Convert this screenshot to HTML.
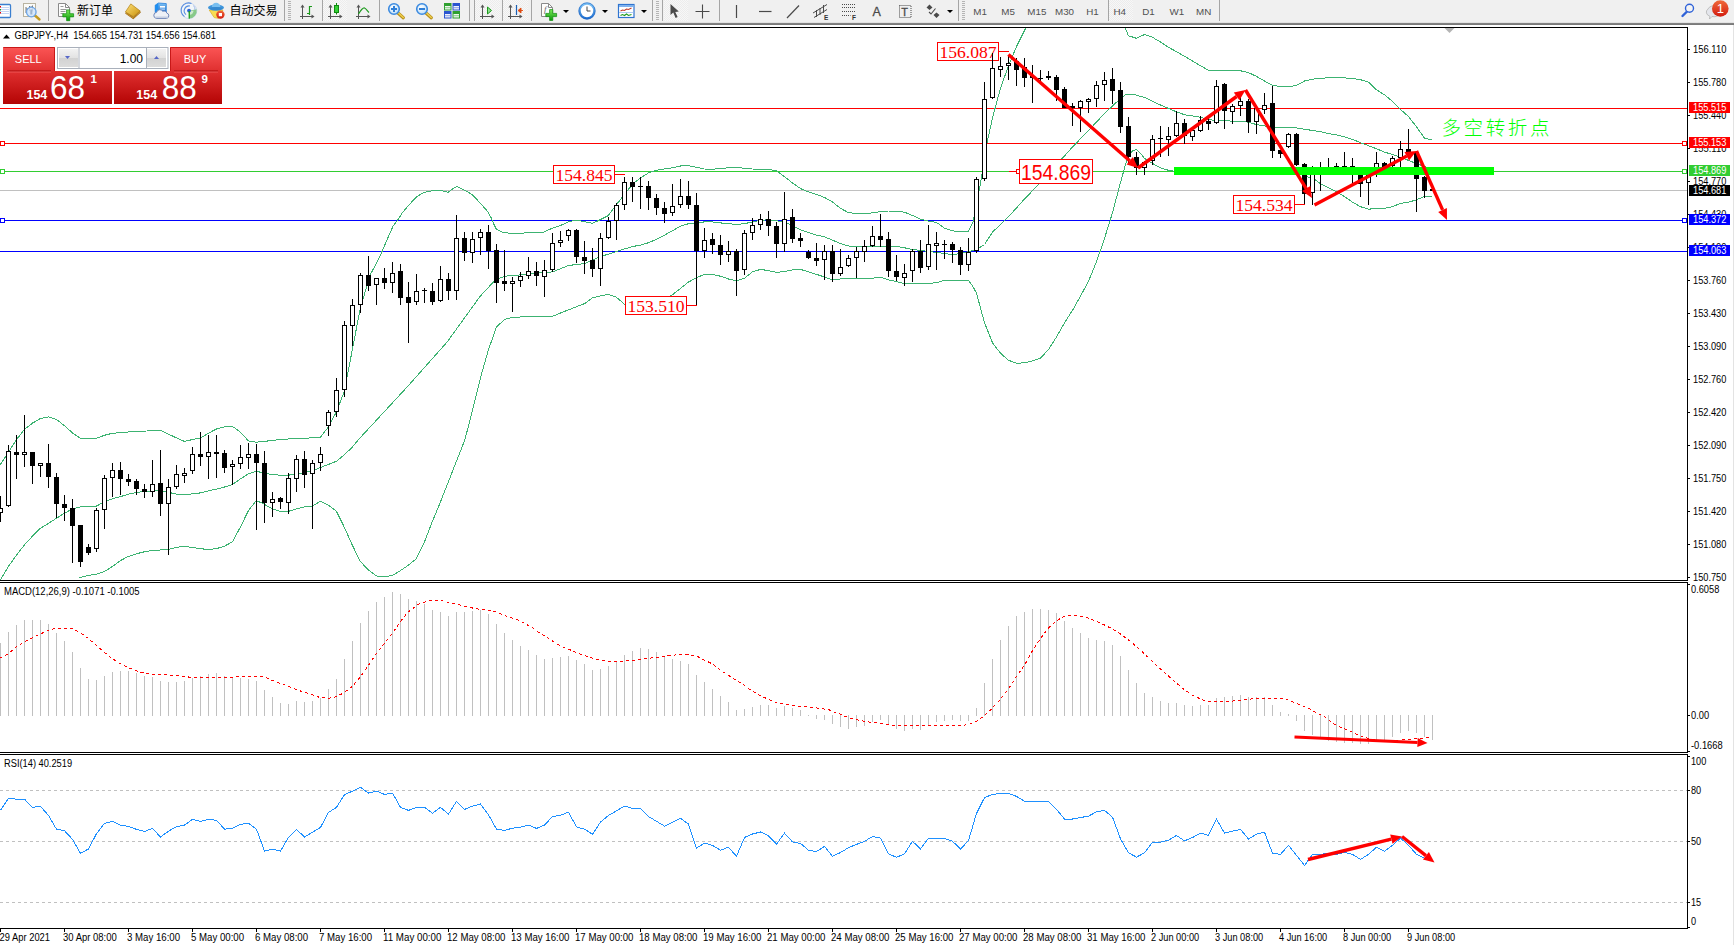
<!DOCTYPE html>
<html><head><meta charset="utf-8"><title>GBPJPY H4</title>
<style>
html,body{margin:0;padding:0;}
body{width:1734px;height:945px;overflow:hidden;background:#fff;position:relative;font-family:"Liberation Sans", "Noto Sans CJK SC", sans-serif;}
#tb{position:absolute;left:0;top:0;width:1734px;height:23px;background:#f0f0f0;}
#tbl{position:absolute;left:0;top:22px;width:1734px;height:3px;background:linear-gradient(#ececec 0%,#dcdcdc 30%,#8a8a8a 42%,#6a6a6a 75%,#9a9a9a 100%);}
</style></head><body>
<div id="tb"></div><div id="tbl"></div>
<svg width="1734" height="945" viewBox="0 0 1734 945" style="position:absolute;left:0;top:0"><defs><clipPath id="cm"><rect x="0" y="28" width="1687" height="552"/></clipPath><clipPath id="cd"><rect x="0" y="583" width="1687" height="169"/></clipPath><clipPath id="cr"><rect x="0" y="755" width="1687" height="173"/></clipPath></defs>
<g shape-rendering="crispEdges">
<g clip-path="url(#cm)">
<rect x="0" y="108" width="1687" height="1" fill="#ff0000"/>
<rect x="0" y="143" width="1687" height="1" fill="#ff0000"/>
<rect x="0" y="171" width="1687" height="1" fill="#32cd32"/>
<rect x="0" y="190" width="1687" height="1" fill="#c0c0c0"/>
<rect x="0" y="220" width="1687" height="1" fill="#0000ff"/>
<rect x="0" y="251" width="1687" height="1" fill="#0000ff"/>
<polyline points="0,465 7.6,453.6 16.5,439.6 24.4,429.5 32.5,423.1 40.3,418.6 48.5,416.8 56.3,419.3 64.5,425.7 72.3,432.8 80.4,438.4 96.4,438.4 104.3,435.3 112.4,433.3 128.4,432 152.2,430.7 160.4,430.2 168.2,434 176.4,437.9 184.5,441.4 192.3,439.6 200.5,437.9 208.3,433.3 216.4,429 224.3,426.9 232.4,426.4 240.3,432 248.4,440.9 256.3,442.2 264.4,441.4 272.3,440.4 280.4,439.6 296.4,438.4 312.4,437.9 320.5,437.1 328.4,426.9 336.5,411.7 344.3,391.4 360.6,306.7 370.8,273.7 378.1,260 382.5,250.5 389.5,234 393.3,225.7 397.8,220 402.2,213 408.6,205.4 416.2,197.1 422.5,193.1 428.9,191.2 436.5,190.5 441.6,190.5 447.9,192.4 451.7,189.5 456.8,186.3 461.9,188.9 467,191.4 472.1,194.6 477.1,199.7 482.2,205.4 487.3,211.1 491.1,217.5 493.7,223.8 496.2,228.9 502.5,232.1 510.2,233.3 522.9,233.3 525.4,232.3 543.2,232.3 550.8,228.9 560.2,225.7 568.6,221.6 576.5,220.3 584.6,221.6 592.5,223.4 600,219.8 608.4,215.5 616.5,204.6 624.4,194.4 632.5,184.3 640.4,177.9 648.5,172.9 656.4,170.3 664.5,169 672.4,167.8 680.5,166 688.4,165.7 696.5,167.3 704.4,169 712.5,169.3 720.4,168.5 728.5,167.8 736.4,167.3 744.5,168.3 752.4,169 760.5,169.3 768.4,169.3 776.5,170.8 784.6,176.7 792.5,183 800.6,188.6 808.5,191.9 816.6,194.4 824.5,197.5 832.6,202.1 840.5,208.4 848.6,212.7 856.5,213.5 864.6,214 872.5,212.7 880.6,211.7 888.5,211 896.6,211 904.5,212.2 912.6,215.5 920.5,219.1 928.6,221.1 936.5,222.4 944.6,228.2 952.5,230.8 960.6,231.8 968.5,231.3 973.3,221.1 976.6,203.3 979.7,188.1 986.7,144.4 992.5,117.8 1000.4,88.6 1008.5,65.7 1016.4,46.7 1026,27.6" fill="none" stroke="#3cb371" stroke-width="1" />
<polyline points="1125.1,27.6 1128.4,35.7 1136.5,38.3 1144.6,34.5 1152.5,37.3 1160.6,42.1 1168.5,47.4 1176.6,51.7 1184.5,56.3 1192.6,61.1 1200.5,65.7 1208.6,70.3 1216.5,70.3 1224.6,70.3 1232.5,70.3 1240.6,70.8 1248.5,72.6 1256.6,76.4 1264.5,81 1272.6,85.5 1280.5,86.5 1288.6,86.8 1296.5,85.5 1304.6,81 1312.5,79.2 1320.6,78.4 1328.5,77.7 1336.6,77.9 1344.5,77.9 1352.6,78.4 1360.5,79.7 1368.6,82.2 1376.5,89.8 1384.6,94.9 1392.5,101.3 1400.4,109.4 1408.5,116.5 1416.4,126.7 1424.5,138.1 1432.4,140.1" fill="none" stroke="#3cb371" stroke-width="1" />
<polyline points="0,580.5 8.4,566.5 16.5,555.1 24.4,544.9 32.5,536.1 40.3,528.4 48.5,523.4 56.3,518.3 64.5,513.2 72.3,508.9 80.4,506.9 96.4,506.1 104.3,501.8 112.4,498.8 120.3,496.7 128.4,494.2 136.3,492.4 144.4,491.6 152.2,490.9 160.4,490.9 168.2,492.2 176.4,494.2 184.5,494.7 200.5,492.9 208.3,490.9 216.4,489.1 224.3,487.1 232.4,484.5 240.3,479 248.4,473.9 256.3,471.3 264.4,473.1 272.3,474.6 280.4,475.2 288.3,475.2 296.4,473.9 304.2,472.6 312.4,470.8 320.5,467.5 328.4,464.5 336.5,461.2 344.3,454.9 352.2,447.2 358.1,440 406.3,387.9 447,342.2 480,296.5 495.2,280 504.6,276.2 520.6,274.9 536.6,273.1 552.6,271.9 568.6,265.5 584.6,263.5 600,256.7 608.4,254.1 616.5,251.6 624.4,249 632.5,246.5 640.4,245.2 648.5,242.7 656.4,239.4 664.5,235.1 672.4,230.8 680.5,226.2 688.4,223.7 696.5,222.9 704.4,221.9 712.5,221.9 720.4,222.9 728.5,223.7 736.4,224.4 744.5,223.7 752.4,221.9 760.5,220.3 768.4,219.8 776.5,220.6 784.6,222.4 792.5,225.4 800.6,230 808.5,232.5 816.6,235.1 824.5,236.9 832.6,240.2 840.5,243.5 848.6,246 856.5,246.5 864.6,246 872.5,246 880.6,246 888.5,246.5 896.6,246.5 904.5,247.8 912.6,249.6 920.5,250.3 928.6,251.6 936.5,252.3 944.6,253.6 952.5,254.6 960.6,253.6 968.5,251.6 976.6,249.6 984.5,244.5 992.5,232.1 1008.5,216.8 1024.5,199 1040.5,182.5 1056.5,164.8 1072.5,147 1088.5,130.5 1104.5,113.5 1117.5,101.3 1125.1,94.9 1132.7,94.2 1144.6,97.5 1160.6,105.1 1176.6,111.9 1184.5,114.7 1192.6,116 1200.5,117.3 1208.6,119.8 1216.5,120.3 1224.6,120.8 1232.5,121.1 1240.6,121.1 1248.5,122.3 1256.6,124.6 1264.5,125.9 1272.6,127.2 1280.5,127.9 1288.6,127.2 1296.5,127.9 1304.6,129.2 1312.5,130.5 1320.6,131.7 1328.5,133.5 1336.6,135 1344.5,136.8 1352.6,139.4 1360.5,142.7 1368.6,145.7 1376.5,148.8 1384.6,152.1 1392.5,154.6 1400.4,157.1 1408.5,160.4 1416.4,163.5 1424.5,166.5 1432.4,168.6" fill="none" stroke="#3cb371" stroke-width="1" />
<polyline points="78.7,577.9 88.3,575.4 96.4,574.1 104.3,571.6 112.4,566.5 120.3,560.7 128.4,556.4 136.3,553.8 144.4,551.8 152.2,550.5 160.4,550 168.2,549.5 176.4,547.5 184.5,546.2 192.3,547.5 200.5,548.7 208.3,549.5 216.4,548.7 224.3,546.2 232.4,541.9 240.3,527.2 248.4,510.7 256.3,500.5 264.4,504.3 272.3,508.9 280.4,511.4 288.3,511.4 296.4,508.9 304.2,506.9 312.4,506.1 320.5,501.3 328.4,505.1 336.5,511.4 344.3,527.2 352.2,544.9 360.3,561.4 368.2,569.8 376.3,575.9 384.2,576.7 392.3,575.4 400.2,570.8 408.3,565.2 416.1,558.9 424.3,542.4 432.1,522.1 440,503.1 464.8,440 472.4,410.8 480.5,377.8 488.4,349.8 496.5,327 504.6,319.4 512.5,317.3 536.6,316.3 552.6,316.3 560.5,313 576.5,306.7 584.6,303.6 592.5,297.8 600,296 608.4,294.3 616.5,297.3 624.4,304.2 633,310 650.8,308.7 672.4,294.8 680.5,288.4 688.4,282.1 696.5,277.7 704.4,274.4 712.5,274.4 720.4,276.2 728.5,279 736.4,280.8 744.5,278.3 752.4,271.9 760.5,269.4 768.4,270.6 776.5,272.4 784.6,271.4 792.5,269.9 800.6,269.4 808.5,271.9 816.6,274.4 824.5,277 832.6,280 840.5,279 848.6,278.8 856.5,278.5 864.6,278.5 872.5,278.3 880.6,277 888.5,280 896.6,281.6 904.5,283.8 912.6,283.8 920.5,283.8 928.6,283.3 936.5,282.8 944.6,280.3 952.5,280.3 968.5,280.3 973.3,287.1 976.6,293.5 981,310 984.5,322.7 988.6,332.9 992.6,343 1000.5,353.2 1008.6,360.3 1016.5,363.3 1024.6,362.8 1032.5,360.8 1040.4,358.3 1048.6,349.4 1056.7,336.7 1064.6,322.7 1072.7,310 1080.6,296 1088.7,280.8 1097.1,260 1104.5,238.4 1112.4,213 1120.5,182.5 1125.1,166 1128.4,155.9 1132.7,150.8 1136.5,149.5 1140.3,153.3 1144.6,158.4 1152.5,163.5 1160.6,167.8 1168.5,170.3 1174.1,171.1 1214,171.6 1264.8,172.4 1300.3,174.2 1315.6,180 1320.6,183.8 1328.5,187.6 1336.6,191.9 1344.5,196.5 1352.6,202.3 1360.5,206.7 1368.6,209.2 1376.5,208.4 1384.6,208.4 1392.5,206.7 1400.4,203.4 1408.5,202.3 1416.4,199.8 1424.5,196.5 1432.4,197" fill="none" stroke="#3cb371" stroke-width="1" />
<rect x="937.5" y="42.5" width="61.0" height="18.0" fill="#fff" stroke="#ff0000" stroke-width="1" shape-rendering="crispEdges"/>
<text x="968.0" y="57.8" font-family='"Liberation Serif", serif' font-size="17.5" fill="#ff0000" text-anchor="middle" textLength="57.2" lengthAdjust="spacingAndGlyphs">156.087</text>
<rect x="999" y="51" width="10" height="1" fill="#ff0000" shape-rendering="crispEdges"/>
<rect x="553.5" y="165.5" width="61.0" height="18.0" fill="#fff" stroke="#ff0000" stroke-width="1" shape-rendering="crispEdges"/>
<text x="584.0" y="180.9" font-family='"Liberation Serif", serif' font-size="17.5" fill="#ff0000" text-anchor="middle" textLength="57.2" lengthAdjust="spacingAndGlyphs">154.845</text>
<rect x="615" y="174" width="10" height="1" fill="#ff0000" shape-rendering="crispEdges"/>
<rect x="625.5" y="296.5" width="61.0" height="18.0" fill="#fff" stroke="#ff0000" stroke-width="1" shape-rendering="crispEdges"/>
<text x="656.0" y="311.8" font-family='"Liberation Serif", serif' font-size="17.5" fill="#ff0000" text-anchor="middle" textLength="57.2" lengthAdjust="spacingAndGlyphs">153.510</text>
<rect x="687" y="305" width="10" height="1" fill="#ff0000" shape-rendering="crispEdges"/>
<rect x="1233.5" y="195.5" width="61.0" height="18.0" fill="#fff" stroke="#ff0000" stroke-width="1" shape-rendering="crispEdges"/>
<text x="1264.0" y="210.9" font-family='"Liberation Serif", serif' font-size="17.5" fill="#ff0000" text-anchor="middle" textLength="57.2" lengthAdjust="spacingAndGlyphs">154.534</text>
<rect x="1295" y="204" width="10" height="1" fill="#ff0000" shape-rendering="crispEdges"/>
<rect x="1019.5" y="159.5" width="73.0" height="24.0" fill="#fff" stroke="#ff0000" stroke-width="1" shape-rendering="crispEdges"/>
<text x="1056.0" y="179.8" font-family='"Liberation Sans", sans-serif' font-size="22" fill="#ff0000" text-anchor="middle" textLength="70" lengthAdjust="spacingAndGlyphs">154.869</text>
<rect x="1009" y="171" width="7" height="1" fill="#ff0000" shape-rendering="crispEdges"/>
<rect x="1016.5" y="169.5" width="3" height="4" fill="#fff" stroke="#ff0000" shape-rendering="crispEdges"/>
<rect x="0" y="496" width="1" height="26" fill="#000"/>
<rect x="-2" y="508" width="5" height="5" fill="#000"/>
<rect x="-1" y="509" width="3" height="3" fill="#fff"/>
<rect x="8" y="445" width="1" height="62" fill="#000"/>
<rect x="6" y="451" width="5" height="55" fill="#000"/>
<rect x="7" y="452" width="3" height="53" fill="#fff"/>
<rect x="16" y="435" width="1" height="44" fill="#000"/>
<rect x="14" y="452" width="5" height="3" fill="#000"/>
<rect x="24" y="415" width="1" height="52" fill="#000"/>
<rect x="22" y="452" width="5" height="3" fill="#000"/>
<rect x="23" y="453" width="3" height="1" fill="#fff"/>
<rect x="32" y="452" width="1" height="32" fill="#000"/>
<rect x="30" y="452" width="5" height="14" fill="#000"/>
<rect x="40" y="463" width="1" height="14" fill="#000"/>
<rect x="38" y="463" width="5" height="3" fill="#000"/>
<rect x="39" y="464" width="3" height="1" fill="#fff"/>
<rect x="48" y="444" width="1" height="44" fill="#000"/>
<rect x="46" y="463" width="5" height="14" fill="#000"/>
<rect x="56" y="473" width="1" height="45" fill="#000"/>
<rect x="54" y="477" width="5" height="27" fill="#000"/>
<rect x="64" y="495" width="1" height="26" fill="#000"/>
<rect x="62" y="504" width="5" height="4" fill="#000"/>
<rect x="72" y="499" width="1" height="64" fill="#000"/>
<rect x="70" y="508" width="5" height="18" fill="#000"/>
<rect x="80" y="525" width="1" height="42" fill="#000"/>
<rect x="78" y="525" width="5" height="37" fill="#000"/>
<rect x="88" y="544" width="1" height="11" fill="#000"/>
<rect x="86" y="547" width="5" height="6" fill="#000"/>
<rect x="96" y="508" width="1" height="44" fill="#000"/>
<rect x="94" y="510" width="5" height="39" fill="#000"/>
<rect x="95" y="511" width="3" height="37" fill="#fff"/>
<rect x="104" y="475" width="1" height="54" fill="#000"/>
<rect x="102" y="478" width="5" height="32" fill="#000"/>
<rect x="103" y="479" width="3" height="30" fill="#fff"/>
<rect x="112" y="463" width="1" height="34" fill="#000"/>
<rect x="110" y="470" width="5" height="8" fill="#000"/>
<rect x="111" y="471" width="3" height="6" fill="#fff"/>
<rect x="120" y="462" width="1" height="33" fill="#000"/>
<rect x="118" y="470" width="5" height="9" fill="#000"/>
<rect x="128" y="474" width="1" height="12" fill="#000"/>
<rect x="126" y="479" width="5" height="3" fill="#000"/>
<rect x="136" y="479" width="1" height="16" fill="#000"/>
<rect x="134" y="481" width="5" height="8" fill="#000"/>
<rect x="144" y="484" width="1" height="14" fill="#000"/>
<rect x="142" y="489" width="5" height="3" fill="#000"/>
<rect x="152" y="460" width="1" height="37" fill="#000"/>
<rect x="150" y="484" width="5" height="8" fill="#000"/>
<rect x="151" y="485" width="3" height="6" fill="#fff"/>
<rect x="160" y="450" width="1" height="66" fill="#000"/>
<rect x="158" y="483" width="5" height="21" fill="#000"/>
<rect x="168" y="479" width="1" height="76" fill="#000"/>
<rect x="166" y="487" width="5" height="17" fill="#000"/>
<rect x="167" y="488" width="3" height="15" fill="#fff"/>
<rect x="176" y="465" width="1" height="24" fill="#000"/>
<rect x="174" y="474" width="5" height="13" fill="#000"/>
<rect x="175" y="475" width="3" height="11" fill="#fff"/>
<rect x="184" y="468" width="1" height="15" fill="#000"/>
<rect x="182" y="473" width="5" height="3" fill="#000"/>
<rect x="183" y="474" width="3" height="1" fill="#fff"/>
<rect x="192" y="447" width="1" height="27" fill="#000"/>
<rect x="190" y="454" width="5" height="17" fill="#000"/>
<rect x="191" y="455" width="3" height="15" fill="#fff"/>
<rect x="200" y="432" width="1" height="34" fill="#000"/>
<rect x="198" y="454" width="5" height="3" fill="#000"/>
<rect x="208" y="435" width="1" height="44" fill="#000"/>
<rect x="206" y="452" width="5" height="5" fill="#000"/>
<rect x="207" y="453" width="3" height="3" fill="#fff"/>
<rect x="216" y="435" width="1" height="43" fill="#000"/>
<rect x="214" y="452" width="5" height="2" fill="#000"/>
<rect x="224" y="450" width="1" height="23" fill="#000"/>
<rect x="222" y="453" width="5" height="15" fill="#000"/>
<rect x="232" y="460" width="1" height="25" fill="#000"/>
<rect x="230" y="464" width="5" height="3" fill="#000"/>
<rect x="231" y="465" width="3" height="1" fill="#fff"/>
<rect x="240" y="445" width="1" height="24" fill="#000"/>
<rect x="238" y="457" width="5" height="7" fill="#000"/>
<rect x="239" y="458" width="3" height="5" fill="#fff"/>
<rect x="248" y="443" width="1" height="26" fill="#000"/>
<rect x="246" y="454" width="5" height="4" fill="#000"/>
<rect x="247" y="455" width="3" height="2" fill="#fff"/>
<rect x="256" y="444" width="1" height="86" fill="#000"/>
<rect x="254" y="454" width="5" height="9" fill="#000"/>
<rect x="264" y="451" width="1" height="72" fill="#000"/>
<rect x="262" y="463" width="5" height="40" fill="#000"/>
<rect x="272" y="492" width="1" height="25" fill="#000"/>
<rect x="270" y="499" width="5" height="4" fill="#000"/>
<rect x="271" y="500" width="3" height="2" fill="#fff"/>
<rect x="280" y="497" width="1" height="12" fill="#000"/>
<rect x="278" y="498" width="5" height="4" fill="#000"/>
<rect x="288" y="473" width="1" height="41" fill="#000"/>
<rect x="286" y="478" width="5" height="25" fill="#000"/>
<rect x="287" y="479" width="3" height="23" fill="#fff"/>
<rect x="296" y="455" width="1" height="37" fill="#000"/>
<rect x="294" y="459" width="5" height="20" fill="#000"/>
<rect x="295" y="460" width="3" height="18" fill="#fff"/>
<rect x="304" y="451" width="1" height="37" fill="#000"/>
<rect x="302" y="459" width="5" height="16" fill="#000"/>
<rect x="312" y="460" width="1" height="69" fill="#000"/>
<rect x="310" y="463" width="5" height="11" fill="#000"/>
<rect x="311" y="464" width="3" height="9" fill="#fff"/>
<rect x="320" y="447" width="1" height="24" fill="#000"/>
<rect x="318" y="454" width="5" height="9" fill="#000"/>
<rect x="319" y="455" width="3" height="7" fill="#fff"/>
<rect x="328" y="410" width="1" height="26" fill="#000"/>
<rect x="326" y="412" width="5" height="14" fill="#000"/>
<rect x="327" y="413" width="3" height="12" fill="#fff"/>
<rect x="336" y="378" width="1" height="39" fill="#000"/>
<rect x="334" y="390" width="5" height="22" fill="#000"/>
<rect x="335" y="391" width="3" height="20" fill="#fff"/>
<rect x="344" y="321" width="1" height="76" fill="#000"/>
<rect x="342" y="325" width="5" height="65" fill="#000"/>
<rect x="343" y="326" width="3" height="63" fill="#fff"/>
<rect x="352" y="299" width="1" height="47" fill="#000"/>
<rect x="350" y="305" width="5" height="21" fill="#000"/>
<rect x="351" y="306" width="3" height="19" fill="#fff"/>
<rect x="360" y="273" width="1" height="40" fill="#000"/>
<rect x="358" y="275" width="5" height="30" fill="#000"/>
<rect x="359" y="276" width="3" height="28" fill="#fff"/>
<rect x="368" y="256" width="1" height="35" fill="#000"/>
<rect x="366" y="275" width="5" height="11" fill="#000"/>
<rect x="376" y="278" width="1" height="27" fill="#000"/>
<rect x="374" y="278" width="5" height="7" fill="#000"/>
<rect x="375" y="279" width="3" height="5" fill="#fff"/>
<rect x="384" y="268" width="1" height="21" fill="#000"/>
<rect x="382" y="278" width="5" height="5" fill="#000"/>
<rect x="392" y="262" width="1" height="31" fill="#000"/>
<rect x="390" y="273" width="5" height="10" fill="#000"/>
<rect x="391" y="274" width="3" height="8" fill="#fff"/>
<rect x="400" y="264" width="1" height="41" fill="#000"/>
<rect x="398" y="271" width="5" height="27" fill="#000"/>
<rect x="408" y="282" width="1" height="61" fill="#000"/>
<rect x="406" y="297" width="5" height="6" fill="#000"/>
<rect x="416" y="274" width="1" height="31" fill="#000"/>
<rect x="414" y="291" width="5" height="11" fill="#000"/>
<rect x="415" y="292" width="3" height="9" fill="#fff"/>
<rect x="424" y="288" width="1" height="15" fill="#000"/>
<rect x="422" y="290" width="5" height="1" fill="#000"/>
<rect x="432" y="283" width="1" height="22" fill="#000"/>
<rect x="430" y="291" width="5" height="11" fill="#000"/>
<rect x="440" y="266" width="1" height="36" fill="#000"/>
<rect x="438" y="279" width="5" height="22" fill="#000"/>
<rect x="439" y="280" width="3" height="20" fill="#fff"/>
<rect x="448" y="273" width="1" height="27" fill="#000"/>
<rect x="446" y="279" width="5" height="12" fill="#000"/>
<rect x="456" y="215" width="1" height="85" fill="#000"/>
<rect x="454" y="238" width="5" height="53" fill="#000"/>
<rect x="455" y="239" width="3" height="51" fill="#fff"/>
<rect x="464" y="232" width="1" height="29" fill="#000"/>
<rect x="462" y="238" width="5" height="15" fill="#000"/>
<rect x="472" y="232" width="1" height="31" fill="#000"/>
<rect x="470" y="239" width="5" height="14" fill="#000"/>
<rect x="471" y="240" width="3" height="12" fill="#fff"/>
<rect x="480" y="229" width="1" height="26" fill="#000"/>
<rect x="478" y="232" width="5" height="6" fill="#000"/>
<rect x="479" y="233" width="3" height="4" fill="#fff"/>
<rect x="488" y="225" width="1" height="44" fill="#000"/>
<rect x="486" y="232" width="5" height="19" fill="#000"/>
<rect x="496" y="244" width="1" height="59" fill="#000"/>
<rect x="494" y="250" width="5" height="33" fill="#000"/>
<rect x="504" y="250" width="1" height="41" fill="#000"/>
<rect x="502" y="281" width="5" height="3" fill="#000"/>
<rect x="512" y="277" width="1" height="35" fill="#000"/>
<rect x="510" y="281" width="5" height="3" fill="#000"/>
<rect x="511" y="282" width="3" height="1" fill="#fff"/>
<rect x="520" y="272" width="1" height="15" fill="#000"/>
<rect x="518" y="276" width="5" height="5" fill="#000"/>
<rect x="519" y="277" width="3" height="3" fill="#fff"/>
<rect x="528" y="257" width="1" height="22" fill="#000"/>
<rect x="526" y="271" width="5" height="5" fill="#000"/>
<rect x="527" y="272" width="3" height="3" fill="#fff"/>
<rect x="536" y="262" width="1" height="24" fill="#000"/>
<rect x="534" y="271" width="5" height="5" fill="#000"/>
<rect x="544" y="260" width="1" height="37" fill="#000"/>
<rect x="542" y="270" width="5" height="7" fill="#000"/>
<rect x="543" y="271" width="3" height="5" fill="#fff"/>
<rect x="552" y="233" width="1" height="39" fill="#000"/>
<rect x="550" y="243" width="5" height="27" fill="#000"/>
<rect x="551" y="244" width="3" height="25" fill="#fff"/>
<rect x="560" y="231" width="1" height="16" fill="#000"/>
<rect x="558" y="240" width="5" height="3" fill="#000"/>
<rect x="559" y="241" width="3" height="1" fill="#fff"/>
<rect x="568" y="229" width="1" height="12" fill="#000"/>
<rect x="566" y="230" width="5" height="6" fill="#000"/>
<rect x="567" y="231" width="3" height="4" fill="#fff"/>
<rect x="576" y="229" width="1" height="34" fill="#000"/>
<rect x="574" y="230" width="5" height="27" fill="#000"/>
<rect x="584" y="241" width="1" height="33" fill="#000"/>
<rect x="582" y="257" width="5" height="4" fill="#000"/>
<rect x="592" y="248" width="1" height="29" fill="#000"/>
<rect x="590" y="260" width="5" height="9" fill="#000"/>
<rect x="600" y="233" width="1" height="53" fill="#000"/>
<rect x="598" y="238" width="5" height="31" fill="#000"/>
<rect x="599" y="239" width="3" height="29" fill="#fff"/>
<rect x="608" y="217" width="1" height="22" fill="#000"/>
<rect x="606" y="221" width="5" height="17" fill="#000"/>
<rect x="607" y="222" width="3" height="15" fill="#fff"/>
<rect x="616" y="203" width="1" height="37" fill="#000"/>
<rect x="614" y="205" width="5" height="16" fill="#000"/>
<rect x="615" y="206" width="3" height="14" fill="#fff"/>
<rect x="624" y="177" width="1" height="33" fill="#000"/>
<rect x="622" y="182" width="5" height="23" fill="#000"/>
<rect x="623" y="183" width="3" height="21" fill="#fff"/>
<rect x="632" y="177" width="1" height="25" fill="#000"/>
<rect x="630" y="182" width="5" height="5" fill="#000"/>
<rect x="640" y="177" width="1" height="32" fill="#000"/>
<rect x="638" y="186" width="5" height="1" fill="#000"/>
<rect x="648" y="181" width="1" height="29" fill="#000"/>
<rect x="646" y="186" width="5" height="12" fill="#000"/>
<rect x="656" y="194" width="1" height="21" fill="#000"/>
<rect x="654" y="198" width="5" height="10" fill="#000"/>
<rect x="664" y="202" width="1" height="21" fill="#000"/>
<rect x="662" y="208" width="5" height="6" fill="#000"/>
<rect x="672" y="184" width="1" height="32" fill="#000"/>
<rect x="670" y="206" width="5" height="7" fill="#000"/>
<rect x="671" y="207" width="3" height="5" fill="#fff"/>
<rect x="680" y="179" width="1" height="29" fill="#000"/>
<rect x="678" y="196" width="5" height="9" fill="#000"/>
<rect x="679" y="197" width="3" height="7" fill="#fff"/>
<rect x="688" y="181" width="1" height="28" fill="#000"/>
<rect x="686" y="196" width="5" height="9" fill="#000"/>
<rect x="696" y="193" width="1" height="112" fill="#000"/>
<rect x="694" y="205" width="5" height="46" fill="#000"/>
<rect x="704" y="228" width="1" height="30" fill="#000"/>
<rect x="702" y="240" width="5" height="11" fill="#000"/>
<rect x="703" y="241" width="3" height="9" fill="#fff"/>
<rect x="712" y="233" width="1" height="21" fill="#000"/>
<rect x="710" y="239" width="5" height="6" fill="#000"/>
<rect x="720" y="235" width="1" height="30" fill="#000"/>
<rect x="718" y="245" width="5" height="10" fill="#000"/>
<rect x="728" y="241" width="1" height="21" fill="#000"/>
<rect x="726" y="251" width="5" height="4" fill="#000"/>
<rect x="727" y="252" width="3" height="2" fill="#fff"/>
<rect x="736" y="249" width="1" height="47" fill="#000"/>
<rect x="734" y="251" width="5" height="20" fill="#000"/>
<rect x="744" y="230" width="1" height="45" fill="#000"/>
<rect x="742" y="233" width="5" height="37" fill="#000"/>
<rect x="743" y="234" width="3" height="35" fill="#fff"/>
<rect x="752" y="218" width="1" height="22" fill="#000"/>
<rect x="750" y="225" width="5" height="8" fill="#000"/>
<rect x="751" y="226" width="3" height="6" fill="#fff"/>
<rect x="760" y="214" width="1" height="16" fill="#000"/>
<rect x="758" y="219" width="5" height="6" fill="#000"/>
<rect x="759" y="220" width="3" height="4" fill="#fff"/>
<rect x="768" y="211" width="1" height="25" fill="#000"/>
<rect x="766" y="219" width="5" height="7" fill="#000"/>
<rect x="776" y="222" width="1" height="36" fill="#000"/>
<rect x="774" y="226" width="5" height="18" fill="#000"/>
<rect x="784" y="192" width="1" height="60" fill="#000"/>
<rect x="782" y="219" width="5" height="25" fill="#000"/>
<rect x="783" y="220" width="3" height="23" fill="#fff"/>
<rect x="792" y="209" width="1" height="34" fill="#000"/>
<rect x="790" y="217" width="5" height="22" fill="#000"/>
<rect x="800" y="233" width="1" height="14" fill="#000"/>
<rect x="798" y="238" width="5" height="3" fill="#000"/>
<rect x="808" y="250" width="1" height="9" fill="#000"/>
<rect x="806" y="252" width="5" height="6" fill="#000"/>
<rect x="816" y="243" width="1" height="23" fill="#000"/>
<rect x="814" y="258" width="5" height="3" fill="#000"/>
<rect x="824" y="245" width="1" height="35" fill="#000"/>
<rect x="822" y="251" width="5" height="9" fill="#000"/>
<rect x="823" y="252" width="3" height="7" fill="#fff"/>
<rect x="832" y="245" width="1" height="37" fill="#000"/>
<rect x="830" y="251" width="5" height="23" fill="#000"/>
<rect x="840" y="249" width="1" height="27" fill="#000"/>
<rect x="838" y="267" width="5" height="7" fill="#000"/>
<rect x="839" y="268" width="3" height="5" fill="#fff"/>
<rect x="848" y="255" width="1" height="12" fill="#000"/>
<rect x="846" y="258" width="5" height="8" fill="#000"/>
<rect x="847" y="259" width="3" height="6" fill="#fff"/>
<rect x="856" y="247" width="1" height="31" fill="#000"/>
<rect x="854" y="251" width="5" height="7" fill="#000"/>
<rect x="855" y="252" width="3" height="5" fill="#fff"/>
<rect x="864" y="240" width="1" height="22" fill="#000"/>
<rect x="862" y="246" width="5" height="6" fill="#000"/>
<rect x="863" y="247" width="3" height="4" fill="#fff"/>
<rect x="872" y="226" width="1" height="21" fill="#000"/>
<rect x="870" y="236" width="5" height="10" fill="#000"/>
<rect x="871" y="237" width="3" height="8" fill="#fff"/>
<rect x="880" y="214" width="1" height="33" fill="#000"/>
<rect x="878" y="236" width="5" height="4" fill="#000"/>
<rect x="888" y="232" width="1" height="45" fill="#000"/>
<rect x="886" y="239" width="5" height="32" fill="#000"/>
<rect x="896" y="255" width="1" height="26" fill="#000"/>
<rect x="894" y="271" width="5" height="6" fill="#000"/>
<rect x="904" y="264" width="1" height="22" fill="#000"/>
<rect x="902" y="273" width="5" height="5" fill="#000"/>
<rect x="903" y="274" width="3" height="3" fill="#fff"/>
<rect x="912" y="249" width="1" height="33" fill="#000"/>
<rect x="910" y="251" width="5" height="20" fill="#000"/>
<rect x="911" y="252" width="3" height="18" fill="#fff"/>
<rect x="920" y="240" width="1" height="33" fill="#000"/>
<rect x="918" y="251" width="5" height="17" fill="#000"/>
<rect x="928" y="225" width="1" height="45" fill="#000"/>
<rect x="926" y="244" width="5" height="23" fill="#000"/>
<rect x="927" y="245" width="3" height="21" fill="#fff"/>
<rect x="936" y="232" width="1" height="38" fill="#000"/>
<rect x="934" y="243" width="5" height="3" fill="#000"/>
<rect x="935" y="244" width="3" height="1" fill="#fff"/>
<rect x="944" y="240" width="1" height="19" fill="#000"/>
<rect x="942" y="244" width="5" height="1" fill="#000"/>
<rect x="952" y="242" width="1" height="21" fill="#000"/>
<rect x="950" y="244" width="5" height="6" fill="#000"/>
<rect x="960" y="247" width="1" height="28" fill="#000"/>
<rect x="958" y="250" width="5" height="15" fill="#000"/>
<rect x="968" y="238" width="1" height="33" fill="#000"/>
<rect x="966" y="252" width="5" height="13" fill="#000"/>
<rect x="967" y="253" width="3" height="11" fill="#fff"/>
<rect x="976" y="177" width="1" height="76" fill="#000"/>
<rect x="974" y="179" width="5" height="72" fill="#000"/>
<rect x="975" y="180" width="3" height="70" fill="#fff"/>
<rect x="984" y="82" width="1" height="99" fill="#000"/>
<rect x="982" y="99" width="5" height="80" fill="#000"/>
<rect x="983" y="100" width="3" height="78" fill="#fff"/>
<rect x="992" y="53" width="1" height="46" fill="#000"/>
<rect x="990" y="68" width="5" height="30" fill="#000"/>
<rect x="991" y="69" width="3" height="28" fill="#fff"/>
<rect x="1000" y="57" width="1" height="20" fill="#000"/>
<rect x="998" y="66" width="5" height="4" fill="#000"/>
<rect x="999" y="67" width="3" height="2" fill="#fff"/>
<rect x="1008" y="56" width="1" height="24" fill="#000"/>
<rect x="1006" y="63" width="5" height="3" fill="#000"/>
<rect x="1007" y="64" width="3" height="1" fill="#fff"/>
<rect x="1016" y="58" width="1" height="28" fill="#000"/>
<rect x="1014" y="61" width="5" height="9" fill="#000"/>
<rect x="1024" y="58" width="1" height="29" fill="#000"/>
<rect x="1022" y="67" width="5" height="11" fill="#000"/>
<rect x="1032" y="65" width="1" height="38" fill="#000"/>
<rect x="1030" y="76" width="5" height="2" fill="#000"/>
<rect x="1040" y="70" width="1" height="11" fill="#000"/>
<rect x="1038" y="78" width="5" height="1" fill="#000"/>
<rect x="1048" y="71" width="1" height="9" fill="#000"/>
<rect x="1046" y="76" width="5" height="2" fill="#000"/>
<rect x="1056" y="75" width="1" height="26" fill="#000"/>
<rect x="1054" y="77" width="5" height="13" fill="#000"/>
<rect x="1064" y="87" width="1" height="21" fill="#000"/>
<rect x="1062" y="89" width="5" height="19" fill="#000"/>
<rect x="1072" y="103" width="1" height="23" fill="#000"/>
<rect x="1070" y="106" width="5" height="2" fill="#000"/>
<rect x="1080" y="100" width="1" height="32" fill="#000"/>
<rect x="1078" y="101" width="5" height="7" fill="#000"/>
<rect x="1079" y="102" width="3" height="5" fill="#fff"/>
<rect x="1088" y="98" width="1" height="15" fill="#000"/>
<rect x="1086" y="99" width="5" height="3" fill="#000"/>
<rect x="1087" y="100" width="3" height="1" fill="#fff"/>
<rect x="1096" y="81" width="1" height="26" fill="#000"/>
<rect x="1094" y="85" width="5" height="14" fill="#000"/>
<rect x="1095" y="86" width="3" height="12" fill="#fff"/>
<rect x="1104" y="72" width="1" height="29" fill="#000"/>
<rect x="1102" y="80" width="5" height="5" fill="#000"/>
<rect x="1103" y="81" width="3" height="3" fill="#fff"/>
<rect x="1112" y="68" width="1" height="36" fill="#000"/>
<rect x="1110" y="79" width="5" height="12" fill="#000"/>
<rect x="1120" y="82" width="1" height="51" fill="#000"/>
<rect x="1118" y="90" width="5" height="37" fill="#000"/>
<rect x="1128" y="117" width="1" height="46" fill="#000"/>
<rect x="1126" y="126" width="5" height="31" fill="#000"/>
<rect x="1136" y="152" width="1" height="23" fill="#000"/>
<rect x="1134" y="157" width="5" height="11" fill="#000"/>
<rect x="1144" y="161" width="1" height="14" fill="#000"/>
<rect x="1142" y="162" width="5" height="6" fill="#000"/>
<rect x="1143" y="163" width="3" height="4" fill="#fff"/>
<rect x="1152" y="135" width="1" height="30" fill="#000"/>
<rect x="1150" y="139" width="5" height="22" fill="#000"/>
<rect x="1151" y="140" width="3" height="20" fill="#fff"/>
<rect x="1160" y="126" width="1" height="31" fill="#000"/>
<rect x="1158" y="138" width="5" height="1" fill="#000"/>
<rect x="1168" y="127" width="1" height="29" fill="#000"/>
<rect x="1166" y="136" width="5" height="4" fill="#000"/>
<rect x="1167" y="137" width="3" height="2" fill="#fff"/>
<rect x="1176" y="111" width="1" height="26" fill="#000"/>
<rect x="1174" y="123" width="5" height="13" fill="#000"/>
<rect x="1175" y="124" width="3" height="11" fill="#fff"/>
<rect x="1184" y="119" width="1" height="25" fill="#000"/>
<rect x="1182" y="123" width="5" height="13" fill="#000"/>
<rect x="1192" y="129" width="1" height="12" fill="#000"/>
<rect x="1190" y="130" width="5" height="7" fill="#000"/>
<rect x="1191" y="131" width="3" height="5" fill="#fff"/>
<rect x="1200" y="116" width="1" height="16" fill="#000"/>
<rect x="1198" y="120" width="5" height="11" fill="#000"/>
<rect x="1199" y="121" width="3" height="9" fill="#fff"/>
<rect x="1208" y="117" width="1" height="13" fill="#000"/>
<rect x="1206" y="121" width="5" height="3" fill="#000"/>
<rect x="1216" y="80" width="1" height="44" fill="#000"/>
<rect x="1214" y="86" width="5" height="37" fill="#000"/>
<rect x="1215" y="87" width="3" height="35" fill="#fff"/>
<rect x="1224" y="83" width="1" height="46" fill="#000"/>
<rect x="1222" y="84" width="5" height="27" fill="#000"/>
<rect x="1232" y="104" width="1" height="20" fill="#000"/>
<rect x="1230" y="106" width="5" height="6" fill="#000"/>
<rect x="1231" y="107" width="3" height="4" fill="#fff"/>
<rect x="1240" y="96" width="1" height="20" fill="#000"/>
<rect x="1238" y="101" width="5" height="5" fill="#000"/>
<rect x="1239" y="102" width="3" height="3" fill="#fff"/>
<rect x="1248" y="99" width="1" height="34" fill="#000"/>
<rect x="1246" y="101" width="5" height="21" fill="#000"/>
<rect x="1256" y="106" width="1" height="28" fill="#000"/>
<rect x="1254" y="108" width="5" height="14" fill="#000"/>
<rect x="1255" y="109" width="3" height="12" fill="#fff"/>
<rect x="1264" y="93" width="1" height="21" fill="#000"/>
<rect x="1262" y="105" width="5" height="5" fill="#000"/>
<rect x="1263" y="106" width="3" height="3" fill="#fff"/>
<rect x="1272" y="86" width="1" height="72" fill="#000"/>
<rect x="1270" y="103" width="5" height="48" fill="#000"/>
<rect x="1280" y="150" width="1" height="8" fill="#000"/>
<rect x="1278" y="150" width="5" height="4" fill="#000"/>
<rect x="1288" y="133" width="1" height="15" fill="#000"/>
<rect x="1286" y="134" width="5" height="13" fill="#000"/>
<rect x="1287" y="135" width="3" height="11" fill="#fff"/>
<rect x="1296" y="133" width="1" height="33" fill="#000"/>
<rect x="1294" y="134" width="5" height="31" fill="#000"/>
<rect x="1304" y="163" width="1" height="41" fill="#000"/>
<rect x="1302" y="164" width="5" height="30" fill="#000"/>
<rect x="1312" y="166" width="1" height="39" fill="#000"/>
<rect x="1310" y="172" width="5" height="21" fill="#000"/>
<rect x="1311" y="173" width="3" height="19" fill="#fff"/>
<rect x="1320" y="162" width="1" height="29" fill="#000"/>
<rect x="1318" y="169" width="5" height="3" fill="#000"/>
<rect x="1319" y="170" width="3" height="1" fill="#fff"/>
<rect x="1328" y="158" width="1" height="14" fill="#000"/>
<rect x="1326" y="167" width="5" height="3" fill="#000"/>
<rect x="1327" y="168" width="3" height="1" fill="#fff"/>
<rect x="1336" y="163" width="1" height="9" fill="#000"/>
<rect x="1334" y="166" width="5" height="5" fill="#000"/>
<rect x="1344" y="152" width="1" height="23" fill="#000"/>
<rect x="1342" y="166" width="5" height="4" fill="#000"/>
<rect x="1352" y="158" width="1" height="26" fill="#000"/>
<rect x="1350" y="166" width="5" height="9" fill="#000"/>
<rect x="1360" y="172" width="1" height="25" fill="#000"/>
<rect x="1358" y="175" width="5" height="9" fill="#000"/>
<rect x="1368" y="172" width="1" height="33" fill="#000"/>
<rect x="1366" y="175" width="5" height="8" fill="#000"/>
<rect x="1367" y="176" width="3" height="6" fill="#fff"/>
<rect x="1376" y="152" width="1" height="25" fill="#000"/>
<rect x="1374" y="163" width="5" height="12" fill="#000"/>
<rect x="1375" y="164" width="3" height="10" fill="#fff"/>
<rect x="1384" y="162" width="1" height="13" fill="#000"/>
<rect x="1382" y="163" width="5" height="9" fill="#000"/>
<rect x="1392" y="156" width="1" height="19" fill="#000"/>
<rect x="1390" y="158" width="5" height="8" fill="#000"/>
<rect x="1391" y="159" width="3" height="6" fill="#fff"/>
<rect x="1400" y="141" width="1" height="26" fill="#000"/>
<rect x="1398" y="149" width="5" height="9" fill="#000"/>
<rect x="1399" y="150" width="3" height="7" fill="#fff"/>
<rect x="1408" y="129" width="1" height="24" fill="#000"/>
<rect x="1406" y="149" width="5" height="3" fill="#000"/>
<rect x="1416" y="151" width="1" height="61" fill="#000"/>
<rect x="1414" y="152" width="5" height="27" fill="#000"/>
<rect x="1424" y="176" width="1" height="22" fill="#000"/>
<rect x="1422" y="177" width="5" height="14" fill="#000"/>
<rect x="1432" y="189" width="1" height="2" fill="#000"/>
<rect x="1430" y="189" width="3" height="2" fill="#000"/>
<rect x="1174" y="167" width="320" height="8" fill="#00ff00"/>
</g>
<rect x="0.5" y="141.5" width="4" height="4" fill="#fff" stroke="#ff0000" stroke-width="1"/>
<rect x="1682.5" y="141.5" width="4" height="4" fill="#fff" stroke="#ff0000" stroke-width="1"/>
<rect x="0.5" y="169.5" width="4" height="4" fill="#fff" stroke="#32cd32" stroke-width="1"/>
<rect x="1682.5" y="169.5" width="4" height="4" fill="#fff" stroke="#32cd32" stroke-width="1"/>
<rect x="0.5" y="218.5" width="4" height="4" fill="#fff" stroke="#0000ff" stroke-width="1"/>
<rect x="1682.5" y="218.5" width="4" height="4" fill="#fff" stroke="#0000ff" stroke-width="1"/>
<g clip-path="url(#cd)">
<rect x="0" y="643" width="1" height="73" fill="#c0c0c0"/>
<rect x="8" y="632" width="1" height="84" fill="#c0c0c0"/>
<rect x="16" y="625" width="1" height="91" fill="#c0c0c0"/>
<rect x="24" y="620" width="1" height="96" fill="#c0c0c0"/>
<rect x="32" y="620" width="1" height="96" fill="#c0c0c0"/>
<rect x="40" y="620" width="1" height="96" fill="#c0c0c0"/>
<rect x="48" y="624" width="1" height="92" fill="#c0c0c0"/>
<rect x="56" y="633" width="1" height="83" fill="#c0c0c0"/>
<rect x="64" y="641" width="1" height="75" fill="#c0c0c0"/>
<rect x="72" y="652" width="1" height="64" fill="#c0c0c0"/>
<rect x="80" y="668" width="1" height="48" fill="#c0c0c0"/>
<rect x="88" y="679" width="1" height="37" fill="#c0c0c0"/>
<rect x="96" y="680" width="1" height="36" fill="#c0c0c0"/>
<rect x="104" y="676" width="1" height="40" fill="#c0c0c0"/>
<rect x="112" y="672" width="1" height="44" fill="#c0c0c0"/>
<rect x="120" y="671" width="1" height="45" fill="#c0c0c0"/>
<rect x="128" y="671" width="1" height="45" fill="#c0c0c0"/>
<rect x="136" y="673" width="1" height="43" fill="#c0c0c0"/>
<rect x="144" y="676" width="1" height="40" fill="#c0c0c0"/>
<rect x="152" y="677" width="1" height="39" fill="#c0c0c0"/>
<rect x="160" y="681" width="1" height="35" fill="#c0c0c0"/>
<rect x="168" y="682" width="1" height="34" fill="#c0c0c0"/>
<rect x="176" y="682" width="1" height="34" fill="#c0c0c0"/>
<rect x="184" y="681" width="1" height="35" fill="#c0c0c0"/>
<rect x="192" y="678" width="1" height="38" fill="#c0c0c0"/>
<rect x="200" y="676" width="1" height="40" fill="#c0c0c0"/>
<rect x="208" y="674" width="1" height="42" fill="#c0c0c0"/>
<rect x="216" y="673" width="1" height="43" fill="#c0c0c0"/>
<rect x="224" y="676" width="1" height="40" fill="#c0c0c0"/>
<rect x="232" y="678" width="1" height="38" fill="#c0c0c0"/>
<rect x="240" y="678" width="1" height="38" fill="#c0c0c0"/>
<rect x="248" y="679" width="1" height="37" fill="#c0c0c0"/>
<rect x="256" y="681" width="1" height="35" fill="#c0c0c0"/>
<rect x="264" y="690" width="1" height="26" fill="#c0c0c0"/>
<rect x="272" y="697" width="1" height="19" fill="#c0c0c0"/>
<rect x="280" y="703" width="1" height="13" fill="#c0c0c0"/>
<rect x="288" y="704" width="1" height="12" fill="#c0c0c0"/>
<rect x="296" y="701" width="1" height="15" fill="#c0c0c0"/>
<rect x="304" y="702" width="1" height="14" fill="#c0c0c0"/>
<rect x="312" y="701" width="1" height="15" fill="#c0c0c0"/>
<rect x="320" y="698" width="1" height="18" fill="#c0c0c0"/>
<rect x="328" y="689" width="1" height="27" fill="#c0c0c0"/>
<rect x="336" y="679" width="1" height="37" fill="#c0c0c0"/>
<rect x="344" y="659" width="1" height="57" fill="#c0c0c0"/>
<rect x="352" y="641" width="1" height="75" fill="#c0c0c0"/>
<rect x="360" y="623" width="1" height="93" fill="#c0c0c0"/>
<rect x="368" y="611" width="1" height="105" fill="#c0c0c0"/>
<rect x="376" y="602" width="1" height="114" fill="#c0c0c0"/>
<rect x="384" y="597" width="1" height="119" fill="#c0c0c0"/>
<rect x="392" y="592" width="1" height="124" fill="#c0c0c0"/>
<rect x="400" y="594" width="1" height="122" fill="#c0c0c0"/>
<rect x="408" y="599" width="1" height="117" fill="#c0c0c0"/>
<rect x="416" y="601" width="1" height="115" fill="#c0c0c0"/>
<rect x="424" y="604" width="1" height="112" fill="#c0c0c0"/>
<rect x="432" y="610" width="1" height="106" fill="#c0c0c0"/>
<rect x="440" y="612" width="1" height="104" fill="#c0c0c0"/>
<rect x="448" y="616" width="1" height="100" fill="#c0c0c0"/>
<rect x="456" y="612" width="1" height="104" fill="#c0c0c0"/>
<rect x="464" y="612" width="1" height="104" fill="#c0c0c0"/>
<rect x="472" y="611" width="1" height="105" fill="#c0c0c0"/>
<rect x="480" y="610" width="1" height="106" fill="#c0c0c0"/>
<rect x="488" y="614" width="1" height="102" fill="#c0c0c0"/>
<rect x="496" y="624" width="1" height="92" fill="#c0c0c0"/>
<rect x="504" y="633" width="1" height="83" fill="#c0c0c0"/>
<rect x="512" y="640" width="1" height="76" fill="#c0c0c0"/>
<rect x="520" y="646" width="1" height="70" fill="#c0c0c0"/>
<rect x="528" y="650" width="1" height="66" fill="#c0c0c0"/>
<rect x="536" y="655" width="1" height="61" fill="#c0c0c0"/>
<rect x="544" y="659" width="1" height="57" fill="#c0c0c0"/>
<rect x="552" y="658" width="1" height="58" fill="#c0c0c0"/>
<rect x="560" y="657" width="1" height="59" fill="#c0c0c0"/>
<rect x="568" y="656" width="1" height="60" fill="#c0c0c0"/>
<rect x="576" y="660" width="1" height="56" fill="#c0c0c0"/>
<rect x="584" y="664" width="1" height="52" fill="#c0c0c0"/>
<rect x="592" y="670" width="1" height="46" fill="#c0c0c0"/>
<rect x="600" y="669" width="1" height="47" fill="#c0c0c0"/>
<rect x="608" y="666" width="1" height="50" fill="#c0c0c0"/>
<rect x="616" y="662" width="1" height="54" fill="#c0c0c0"/>
<rect x="624" y="655" width="1" height="61" fill="#c0c0c0"/>
<rect x="632" y="651" width="1" height="65" fill="#c0c0c0"/>
<rect x="640" y="648" width="1" height="68" fill="#c0c0c0"/>
<rect x="648" y="649" width="1" height="67" fill="#c0c0c0"/>
<rect x="656" y="652" width="1" height="64" fill="#c0c0c0"/>
<rect x="664" y="657" width="1" height="59" fill="#c0c0c0"/>
<rect x="672" y="659" width="1" height="57" fill="#c0c0c0"/>
<rect x="680" y="661" width="1" height="55" fill="#c0c0c0"/>
<rect x="688" y="664" width="1" height="52" fill="#c0c0c0"/>
<rect x="696" y="675" width="1" height="41" fill="#c0c0c0"/>
<rect x="704" y="682" width="1" height="34" fill="#c0c0c0"/>
<rect x="712" y="689" width="1" height="27" fill="#c0c0c0"/>
<rect x="720" y="696" width="1" height="20" fill="#c0c0c0"/>
<rect x="728" y="702" width="1" height="14" fill="#c0c0c0"/>
<rect x="736" y="710" width="1" height="6" fill="#c0c0c0"/>
<rect x="744" y="709" width="1" height="7" fill="#c0c0c0"/>
<rect x="752" y="707" width="1" height="9" fill="#c0c0c0"/>
<rect x="760" y="705" width="1" height="11" fill="#c0c0c0"/>
<rect x="768" y="705" width="1" height="11" fill="#c0c0c0"/>
<rect x="776" y="708" width="1" height="8" fill="#c0c0c0"/>
<rect x="784" y="706" width="1" height="10" fill="#c0c0c0"/>
<rect x="792" y="708" width="1" height="8" fill="#c0c0c0"/>
<rect x="800" y="710" width="1" height="6" fill="#c0c0c0"/>
<rect x="808" y="715" width="1" height="1" fill="#c0c0c0"/>
<rect x="816" y="715" width="1" height="4" fill="#c0c0c0"/>
<rect x="824" y="715" width="1" height="5" fill="#c0c0c0"/>
<rect x="832" y="715" width="1" height="9" fill="#c0c0c0"/>
<rect x="840" y="715" width="1" height="12" fill="#c0c0c0"/>
<rect x="848" y="715" width="1" height="14" fill="#c0c0c0"/>
<rect x="856" y="715" width="1" height="12" fill="#c0c0c0"/>
<rect x="864" y="715" width="1" height="11" fill="#c0c0c0"/>
<rect x="872" y="715" width="1" height="7" fill="#c0c0c0"/>
<rect x="880" y="715" width="1" height="5" fill="#c0c0c0"/>
<rect x="888" y="715" width="1" height="9" fill="#c0c0c0"/>
<rect x="896" y="715" width="1" height="14" fill="#c0c0c0"/>
<rect x="904" y="715" width="1" height="16" fill="#c0c0c0"/>
<rect x="912" y="715" width="1" height="14" fill="#c0c0c0"/>
<rect x="920" y="715" width="1" height="15" fill="#c0c0c0"/>
<rect x="928" y="715" width="1" height="11" fill="#c0c0c0"/>
<rect x="936" y="715" width="1" height="7" fill="#c0c0c0"/>
<rect x="944" y="715" width="1" height="6" fill="#c0c0c0"/>
<rect x="952" y="715" width="1" height="5" fill="#c0c0c0"/>
<rect x="960" y="715" width="1" height="6" fill="#c0c0c0"/>
<rect x="968" y="715" width="1" height="6" fill="#c0c0c0"/>
<rect x="976" y="708" width="1" height="8" fill="#c0c0c0"/>
<rect x="984" y="683" width="1" height="33" fill="#c0c0c0"/>
<rect x="992" y="659" width="1" height="57" fill="#c0c0c0"/>
<rect x="1000" y="640" width="1" height="76" fill="#c0c0c0"/>
<rect x="1008" y="626" width="1" height="90" fill="#c0c0c0"/>
<rect x="1016" y="616" width="1" height="100" fill="#c0c0c0"/>
<rect x="1024" y="612" width="1" height="104" fill="#c0c0c0"/>
<rect x="1032" y="609" width="1" height="107" fill="#c0c0c0"/>
<rect x="1040" y="609" width="1" height="107" fill="#c0c0c0"/>
<rect x="1048" y="610" width="1" height="106" fill="#c0c0c0"/>
<rect x="1056" y="613" width="1" height="103" fill="#c0c0c0"/>
<rect x="1064" y="621" width="1" height="95" fill="#c0c0c0"/>
<rect x="1072" y="628" width="1" height="88" fill="#c0c0c0"/>
<rect x="1080" y="633" width="1" height="83" fill="#c0c0c0"/>
<rect x="1088" y="638" width="1" height="78" fill="#c0c0c0"/>
<rect x="1096" y="640" width="1" height="76" fill="#c0c0c0"/>
<rect x="1104" y="641" width="1" height="75" fill="#c0c0c0"/>
<rect x="1112" y="645" width="1" height="71" fill="#c0c0c0"/>
<rect x="1120" y="656" width="1" height="60" fill="#c0c0c0"/>
<rect x="1128" y="670" width="1" height="46" fill="#c0c0c0"/>
<rect x="1136" y="683" width="1" height="33" fill="#c0c0c0"/>
<rect x="1144" y="693" width="1" height="23" fill="#c0c0c0"/>
<rect x="1152" y="697" width="1" height="19" fill="#c0c0c0"/>
<rect x="1160" y="701" width="1" height="15" fill="#c0c0c0"/>
<rect x="1168" y="703" width="1" height="13" fill="#c0c0c0"/>
<rect x="1176" y="703" width="1" height="13" fill="#c0c0c0"/>
<rect x="1184" y="705" width="1" height="11" fill="#c0c0c0"/>
<rect x="1192" y="706" width="1" height="10" fill="#c0c0c0"/>
<rect x="1200" y="705" width="1" height="11" fill="#c0c0c0"/>
<rect x="1208" y="705" width="1" height="11" fill="#c0c0c0"/>
<rect x="1216" y="698" width="1" height="18" fill="#c0c0c0"/>
<rect x="1224" y="697" width="1" height="19" fill="#c0c0c0"/>
<rect x="1232" y="696" width="1" height="20" fill="#c0c0c0"/>
<rect x="1240" y="695" width="1" height="21" fill="#c0c0c0"/>
<rect x="1248" y="697" width="1" height="19" fill="#c0c0c0"/>
<rect x="1256" y="697" width="1" height="19" fill="#c0c0c0"/>
<rect x="1264" y="697" width="1" height="19" fill="#c0c0c0"/>
<rect x="1272" y="705" width="1" height="11" fill="#c0c0c0"/>
<rect x="1280" y="712" width="1" height="4" fill="#c0c0c0"/>
<rect x="1288" y="714" width="1" height="2" fill="#c0c0c0"/>
<rect x="1296" y="715" width="1" height="6" fill="#c0c0c0"/>
<rect x="1304" y="715" width="1" height="16" fill="#c0c0c0"/>
<rect x="1312" y="715" width="1" height="20" fill="#c0c0c0"/>
<rect x="1320" y="715" width="1" height="23" fill="#c0c0c0"/>
<rect x="1328" y="715" width="1" height="26" fill="#c0c0c0"/>
<rect x="1336" y="715" width="1" height="27" fill="#c0c0c0"/>
<rect x="1344" y="715" width="1" height="28" fill="#c0c0c0"/>
<rect x="1352" y="715" width="1" height="28" fill="#c0c0c0"/>
<rect x="1360" y="715" width="1" height="29" fill="#c0c0c0"/>
<rect x="1368" y="715" width="1" height="29" fill="#c0c0c0"/>
<rect x="1376" y="715" width="1" height="27" fill="#c0c0c0"/>
<rect x="1384" y="715" width="1" height="25" fill="#c0c0c0"/>
<rect x="1392" y="715" width="1" height="22" fill="#c0c0c0"/>
<rect x="1400" y="715" width="1" height="18" fill="#c0c0c0"/>
<rect x="1408" y="715" width="1" height="16" fill="#c0c0c0"/>
<rect x="1416" y="715" width="1" height="18" fill="#c0c0c0"/>
<rect x="1424" y="715" width="1" height="22" fill="#c0c0c0"/>
<rect x="1432" y="715" width="1" height="25" fill="#c0c0c0"/>
<polyline points="0,658.2 7.6,654.2 15.7,647.3 24.4,641.7 32.5,637.7 40.6,633.9 48.2,630.3 54.6,628.5 72.3,628.5 80.4,632.9 88.3,638.4 96.4,645.5 104.3,652.4 112.4,658.7 120.3,663.8 128.4,667.6 136.3,670.9 144.4,673.2 152.2,674.2 168.2,675 184.5,676.5 192.3,677.5 232.4,677.5 240.3,676.5 264.4,677 272.3,680.3 280.4,683.6 288.3,686.1 296.4,689.7 304.2,692.2 312.4,694.8 320.2,697.6 328.4,698.3 336.2,696.8 344.3,692.5 352.2,686.6 360.3,677 368.2,665.6 376.3,653.7 384.2,643.5 392.3,633.4 400.2,621.9 408.3,611.8 416.1,606 420,603.4 427.6,601.1 440.3,600.4 448.4,602.4 456.5,604.2 464.4,606.2 472.5,608 480.4,609.5 492.3,610.8 500.4,613.6 508.3,616.9 516.4,619.4 524.3,623.2 532.4,627.8 540.3,633.4 548.4,638.4 556.3,643.5 564.4,647.8 572.2,650.6 580.4,654.2 588.2,656.7 596.4,659.5 604.5,661 620.5,661.5 632.4,660.5 640.3,659.5 648.4,658.2 656.2,657.5 664.4,656.2 672.2,655.2 680.3,654.7 688.2,654.7 696.3,655.9 704.2,660 712.3,663.8 720.2,670.2 728.3,675.2 736.2,680.3 744.3,685.4 752.2,691.2 760.3,695.5 768.1,699.3 776.3,702.4 784.1,703.7 792.2,705.7 800.1,706.4 812.3,707.2 820.2,708.5 828.3,709.5 836.1,713 840,714.1 848.4,717.6 856.5,719.6 864.4,721.4 872.5,722.4 880.3,723.2 888.5,724.7 896.3,725.5 904.5,725.7 960.3,725.5 968.4,724.7 976.3,721.4 984.4,715.8 992.2,708.2 1000.4,699.3 1008.2,689.2 1016.4,676.5 1024.5,665.1 1032.3,651.1 1040.5,638.4 1048.3,628.3 1056.4,620.7 1064.3,616.4 1072.4,615.1 1080.3,616.1 1088.4,618.1 1096.3,621.2 1104.4,625 1112.3,628.8 1120.4,633.9 1128.3,639.7 1136.4,646.6 1144.2,653.7 1152.4,661.3 1160.2,668.9 1168.4,676 1176.2,682.8 1184.3,689.7 1192.2,695 1200.3,698.8 1204.1,700.6 1208.2,701.1 1232.3,701.1 1240.2,700.4 1248.3,699.1 1256.1,698.8 1260,698.3 1284.4,698.3 1292.5,701.9 1300.3,704.9 1308.5,708.2 1316.3,712.8 1324.5,716.6 1332.3,722.9 1340.4,727.2 1348.3,730.3 1356.4,734.4 1364.3,737.4 1372.4,739.4 1380.3,740.4 1391.9,740.4 1400.3,739.9 1408.4,739.4 1416.3,738.7 1424.4,737.9 1432.3,737.4" fill="none" stroke="#ff0000" stroke-width="1" stroke-dasharray="3 3"/>
</g>
<g clip-path="url(#cr)">
<line x1="0" y1="790.5" x2="1687" y2="790.5" stroke="#c0c0c0" stroke-width="1" stroke-dasharray="3 3"/>
<line x1="0" y1="841.5" x2="1687" y2="841.5" stroke="#c0c0c0" stroke-width="1" stroke-dasharray="3 3"/>
<line x1="0" y1="902.5" x2="1687" y2="902.5" stroke="#c0c0c0" stroke-width="1" stroke-dasharray="3 3"/>
<polyline points="0.5,810.4 8.5,798.2 16.5,799.2 24.5,799.2 32.5,807.3 40.5,806.3 48.5,815.5 56.5,829.2 64.5,830.7 72.5,839.3 80.5,853.3 88.5,849 96.5,833.7 104.5,823.3 112.5,821.3 120.5,825.1 128.5,826.4 136.5,829.4 144.5,831.5 152.5,828.4 160.5,837 168.5,831.2 176.5,826.6 184.5,825.1 192.5,819.3 200.5,821.3 208.5,819.3 216.5,820.3 224.5,829.2 232.5,828.2 240.5,824.3 248.5,823.3 256.5,829.2 264.5,851 272.5,849.2 280.5,851 288.5,837.3 296.5,829.4 304.5,837 312.5,832.2 320.5,827.4 328.5,812.4 336.5,807.3 344.5,794.7 352.5,791.1 360.5,787.3 368.5,793.1 376.5,791.1 384.5,794.4 392.5,793.1 400.5,807.3 408.5,810.4 416.5,807.3 424.5,807.3 432.5,813.2 440.5,807.3 448.5,814.2 456.5,801.3 464.5,809.4 472.5,806.1 480.5,804 488.5,814.7 496.5,829.2 504.5,830.4 512.5,828.2 520.5,827.1 528.5,825.1 536.5,828.4 544.5,825.1 552.5,816.5 560.5,815.2 568.5,812.2 576.5,826.9 584.5,829.2 592.5,834.2 600.5,822.1 608.5,815.5 616.5,810.9 624.5,806.1 632.5,808.4 640.5,808.4 648.5,816.5 656.5,821.3 664.5,826.1 672.5,822.1 680.5,818.3 688.5,824.1 696.5,848.2 704.5,843.1 712.5,845.4 720.5,850.2 728.5,847.2 736.5,856.3 744.5,837.5 752.5,834 760.5,832 768.5,835.8 776.5,844.1 784.5,833.2 792.5,841.9 800.5,843.4 808.5,850.2 816.5,851.5 824.5,846.4 832.5,856.3 840.5,852.5 848.5,847.7 856.5,844.4 864.5,841.3 872.5,836.5 880.5,838.1 888.5,853.8 896.5,857.3 904.5,853.8 912.5,841.3 920.5,849 928.5,838.3 936.5,838.3 944.5,838.3 952.5,841.3 960.5,849 968.5,840.6 976.5,813.4 984.5,797.7 992.5,794.4 1000.5,793.4 1008.5,793.4 1016.5,796.4 1024.5,801.3 1032.5,801.3 1040.5,801.3 1048.5,801.3 1056.5,809.4 1064.5,819 1072.5,819 1080.5,817.5 1088.5,816.2 1096.5,811.7 1104.5,810.4 1112.5,817.2 1120.5,838.8 1128.5,852.8 1136.5,857.1 1144.5,852.8 1152.5,842.1 1160.5,842.1 1168.5,840.1 1176.5,835.5 1184.5,840.8 1192.5,837.5 1200.5,833.2 1208.5,835.3 1216.5,819.3 1224.5,833 1232.5,831.2 1240.5,829.4 1248.5,839.1 1256.5,834.2 1264.5,832.2 1272.5,853.3 1280.5,854.3 1288.5,845.4 1296.5,855.3 1304.5,865.5 1312.5,854.3 1320.5,854.3 1328.5,853.3 1336.5,854.3 1344.5,852.3 1352.5,854.3 1360.5,859.4 1368.5,854.3 1376.5,847.2 1384.5,851.2 1392.5,845.2 1400.5,838.1 1408.5,845.2 1416.5,854.3 1424.5,858.4 1432.5,860.9" fill="none" stroke="#1e90ff" stroke-width="1" />
</g>
<rect x="0" y="27" width="1688" height="1" fill="#000"/>
<rect x="0" y="580" width="1688" height="1" fill="#000"/>
<rect x="0" y="582" width="1688" height="1" fill="#000"/>
<rect x="0" y="752" width="1688" height="1" fill="#000"/>
<rect x="0" y="754" width="1688" height="1" fill="#000"/>
<rect x="0" y="928" width="1688" height="1" fill="#000"/>
<rect x="1687" y="27" width="1" height="554" fill="#000"/>
<rect x="1687" y="582" width="1" height="171" fill="#000"/>
<rect x="1687" y="754" width="1" height="175" fill="#000"/>
<rect x="1733" y="25" width="1" height="920" fill="#e3e3e3"/>
<rect x="1688" y="49" width="2" height="1" fill="#000"/>
<rect x="1688" y="82" width="2" height="1" fill="#000"/>
<rect x="1688" y="115" width="2" height="1" fill="#000"/>
<rect x="1688" y="148" width="2" height="1" fill="#000"/>
<rect x="1688" y="181" width="2" height="1" fill="#000"/>
<rect x="1688" y="214" width="2" height="1" fill="#000"/>
<rect x="1688" y="247" width="2" height="1" fill="#000"/>
<rect x="1688" y="280" width="2" height="1" fill="#000"/>
<rect x="1688" y="313" width="2" height="1" fill="#000"/>
<rect x="1688" y="346" width="2" height="1" fill="#000"/>
<rect x="1688" y="379" width="2" height="1" fill="#000"/>
<rect x="1688" y="412" width="2" height="1" fill="#000"/>
<rect x="1688" y="445" width="2" height="1" fill="#000"/>
<rect x="1688" y="478" width="2" height="1" fill="#000"/>
<rect x="1688" y="511" width="2" height="1" fill="#000"/>
<rect x="1688" y="544" width="2" height="1" fill="#000"/>
<rect x="1688" y="577" width="2" height="1" fill="#000"/>
<rect x="0" y="929" width="1" height="3" fill="#000"/>
<rect x="64" y="929" width="1" height="3" fill="#000"/>
<rect x="128" y="929" width="1" height="3" fill="#000"/>
<rect x="192" y="929" width="1" height="3" fill="#000"/>
<rect x="256" y="929" width="1" height="3" fill="#000"/>
<rect x="320" y="929" width="1" height="3" fill="#000"/>
<rect x="384" y="929" width="1" height="3" fill="#000"/>
<rect x="448" y="929" width="1" height="3" fill="#000"/>
<rect x="512" y="929" width="1" height="3" fill="#000"/>
<rect x="576" y="929" width="1" height="3" fill="#000"/>
<rect x="640" y="929" width="1" height="3" fill="#000"/>
<rect x="704" y="929" width="1" height="3" fill="#000"/>
<rect x="768" y="929" width="1" height="3" fill="#000"/>
<rect x="832" y="929" width="1" height="3" fill="#000"/>
<rect x="896" y="929" width="1" height="3" fill="#000"/>
<rect x="960" y="929" width="1" height="3" fill="#000"/>
<rect x="1024" y="929" width="1" height="3" fill="#000"/>
<rect x="1088" y="929" width="1" height="3" fill="#000"/>
<rect x="1152" y="929" width="1" height="3" fill="#000"/>
<rect x="1216" y="929" width="1" height="3" fill="#000"/>
<rect x="1280" y="929" width="1" height="3" fill="#000"/>
<rect x="1344" y="929" width="1" height="3" fill="#000"/>
<rect x="1408" y="929" width="1" height="3" fill="#000"/>
<rect x="1688" y="584" width="2" height="1" fill="#000"/>
<rect x="1688" y="715" width="2" height="1" fill="#000"/>
<rect x="1688" y="751" width="2" height="1" fill="#000"/>
<rect x="1688" y="756" width="2" height="1" fill="#000"/>
<rect x="1688" y="790" width="2" height="1" fill="#000"/>
<rect x="1688" y="841" width="2" height="1" fill="#000"/>
<rect x="1688" y="902" width="2" height="1" fill="#000"/>
<rect x="1688" y="927" width="2" height="1" fill="#000"/>
</g>
<text x="1693" y="53.2" font-family='"Liberation Sans", "Noto Sans CJK SC", sans-serif' font-size="10" fill="#000" text-anchor="start" textLength="33.4" lengthAdjust="spacingAndGlyphs">156.110</text>
<text x="1693" y="86.2" font-family='"Liberation Sans", "Noto Sans CJK SC", sans-serif' font-size="10" fill="#000" text-anchor="start" textLength="33.4" lengthAdjust="spacingAndGlyphs">155.780</text>
<text x="1693" y="119.2" font-family='"Liberation Sans", "Noto Sans CJK SC", sans-serif' font-size="10" fill="#000" text-anchor="start" textLength="33.4" lengthAdjust="spacingAndGlyphs">155.440</text>
<text x="1693" y="152.2" font-family='"Liberation Sans", "Noto Sans CJK SC", sans-serif' font-size="10" fill="#000" text-anchor="start" textLength="33.4" lengthAdjust="spacingAndGlyphs">155.110</text>
<text x="1693" y="185.2" font-family='"Liberation Sans", "Noto Sans CJK SC", sans-serif' font-size="10" fill="#000" text-anchor="start" textLength="33.4" lengthAdjust="spacingAndGlyphs">154.770</text>
<text x="1693" y="218.2" font-family='"Liberation Sans", "Noto Sans CJK SC", sans-serif' font-size="10" fill="#000" text-anchor="start" textLength="33.4" lengthAdjust="spacingAndGlyphs">154.430</text>
<text x="1693" y="251.2" font-family='"Liberation Sans", "Noto Sans CJK SC", sans-serif' font-size="10" fill="#000" text-anchor="start" textLength="33.4" lengthAdjust="spacingAndGlyphs">154.100</text>
<text x="1693" y="284.2" font-family='"Liberation Sans", "Noto Sans CJK SC", sans-serif' font-size="10" fill="#000" text-anchor="start" textLength="33.4" lengthAdjust="spacingAndGlyphs">153.760</text>
<text x="1693" y="317.2" font-family='"Liberation Sans", "Noto Sans CJK SC", sans-serif' font-size="10" fill="#000" text-anchor="start" textLength="33.4" lengthAdjust="spacingAndGlyphs">153.430</text>
<text x="1693" y="350.2" font-family='"Liberation Sans", "Noto Sans CJK SC", sans-serif' font-size="10" fill="#000" text-anchor="start" textLength="33.4" lengthAdjust="spacingAndGlyphs">153.090</text>
<text x="1693" y="383.2" font-family='"Liberation Sans", "Noto Sans CJK SC", sans-serif' font-size="10" fill="#000" text-anchor="start" textLength="33.4" lengthAdjust="spacingAndGlyphs">152.760</text>
<text x="1693" y="416.2" font-family='"Liberation Sans", "Noto Sans CJK SC", sans-serif' font-size="10" fill="#000" text-anchor="start" textLength="33.4" lengthAdjust="spacingAndGlyphs">152.420</text>
<text x="1693" y="449.2" font-family='"Liberation Sans", "Noto Sans CJK SC", sans-serif' font-size="10" fill="#000" text-anchor="start" textLength="33.4" lengthAdjust="spacingAndGlyphs">152.090</text>
<text x="1693" y="482.2" font-family='"Liberation Sans", "Noto Sans CJK SC", sans-serif' font-size="10" fill="#000" text-anchor="start" textLength="33.4" lengthAdjust="spacingAndGlyphs">151.750</text>
<text x="1693" y="515.2" font-family='"Liberation Sans", "Noto Sans CJK SC", sans-serif' font-size="10" fill="#000" text-anchor="start" textLength="33.4" lengthAdjust="spacingAndGlyphs">151.420</text>
<text x="1693" y="548.2" font-family='"Liberation Sans", "Noto Sans CJK SC", sans-serif' font-size="10" fill="#000" text-anchor="start" textLength="33.4" lengthAdjust="spacingAndGlyphs">151.080</text>
<text x="1693" y="581.2" font-family='"Liberation Sans", "Noto Sans CJK SC", sans-serif' font-size="10" fill="#000" text-anchor="start" textLength="33.4" lengthAdjust="spacingAndGlyphs">150.750</text>
<rect x="1689" y="102" width="41" height="11" fill="#ff0000" shape-rendering="crispEdges"/>
<text x="1693" y="111.2" font-family='"Liberation Sans", "Noto Sans CJK SC", sans-serif' font-size="10" fill="#fff" text-anchor="start" textLength="33.4" lengthAdjust="spacingAndGlyphs">155.515</text>
<rect x="1689" y="137" width="41" height="11" fill="#ff0000" shape-rendering="crispEdges"/>
<text x="1693" y="146.2" font-family='"Liberation Sans", "Noto Sans CJK SC", sans-serif' font-size="10" fill="#fff" text-anchor="start" textLength="33.4" lengthAdjust="spacingAndGlyphs">155.153</text>
<rect x="1689" y="165" width="41" height="11" fill="#32cd32" shape-rendering="crispEdges"/>
<text x="1693" y="174.2" font-family='"Liberation Sans", "Noto Sans CJK SC", sans-serif' font-size="10" fill="#fff" text-anchor="start" textLength="33.4" lengthAdjust="spacingAndGlyphs">154.869</text>
<rect x="1689" y="185" width="41" height="11" fill="#000" shape-rendering="crispEdges"/>
<text x="1693" y="194.2" font-family='"Liberation Sans", "Noto Sans CJK SC", sans-serif' font-size="10" fill="#fff" text-anchor="start" textLength="33.4" lengthAdjust="spacingAndGlyphs">154.681</text>
<rect x="1689" y="214" width="41" height="11" fill="#0000ff" shape-rendering="crispEdges"/>
<text x="1693" y="223.2" font-family='"Liberation Sans", "Noto Sans CJK SC", sans-serif' font-size="10" fill="#fff" text-anchor="start" textLength="33.4" lengthAdjust="spacingAndGlyphs">154.372</text>
<rect x="1689" y="245" width="41" height="11" fill="#0000ff" shape-rendering="crispEdges"/>
<text x="1693" y="254.2" font-family='"Liberation Sans", "Noto Sans CJK SC", sans-serif' font-size="10" fill="#fff" text-anchor="start" textLength="33.4" lengthAdjust="spacingAndGlyphs">154.063</text>
<text x="1691" y="593.2" font-family='"Liberation Sans", "Noto Sans CJK SC", sans-serif' font-size="10" fill="#000" text-anchor="start" textLength="28.3" lengthAdjust="spacingAndGlyphs">0.6058</text>
<text x="1691" y="719.2" font-family='"Liberation Sans", "Noto Sans CJK SC", sans-serif' font-size="10" fill="#000" text-anchor="start" textLength="18.1" lengthAdjust="spacingAndGlyphs">0.00</text>
<text x="1691" y="749.2" font-family='"Liberation Sans", "Noto Sans CJK SC", sans-serif' font-size="10" fill="#000" text-anchor="start" textLength="31.7" lengthAdjust="spacingAndGlyphs">-0.1668</text>
<text x="1691" y="765.2" font-family='"Liberation Sans", "Noto Sans CJK SC", sans-serif' font-size="10" fill="#000" text-anchor="start" textLength="15.3" lengthAdjust="spacingAndGlyphs">100</text>
<text x="1691" y="794.2" font-family='"Liberation Sans", "Noto Sans CJK SC", sans-serif' font-size="10" fill="#000" text-anchor="start" textLength="10.2" lengthAdjust="spacingAndGlyphs">80</text>
<text x="1691" y="845.2" font-family='"Liberation Sans", "Noto Sans CJK SC", sans-serif' font-size="10" fill="#000" text-anchor="start" textLength="10.2" lengthAdjust="spacingAndGlyphs">50</text>
<text x="1691" y="906.2" font-family='"Liberation Sans", "Noto Sans CJK SC", sans-serif' font-size="10" fill="#000" text-anchor="start" textLength="10.2" lengthAdjust="spacingAndGlyphs">15</text>
<text x="1691" y="925.2" font-family='"Liberation Sans", "Noto Sans CJK SC", sans-serif' font-size="10" fill="#000" text-anchor="start" textLength="5.1" lengthAdjust="spacingAndGlyphs">0</text>
<text x="-0.5" y="941.0" font-family='"Liberation Sans", "Noto Sans CJK SC", sans-serif' font-size="10" fill="#000" text-anchor="start" textLength="50.5" lengthAdjust="spacingAndGlyphs">29 Apr 2021</text>
<text x="63" y="941.0" font-family='"Liberation Sans", "Noto Sans CJK SC", sans-serif' font-size="10" fill="#000" text-anchor="start" textLength="53.8" lengthAdjust="spacingAndGlyphs">30 Apr 08:00</text>
<text x="127" y="941.0" font-family='"Liberation Sans", "Noto Sans CJK SC", sans-serif' font-size="10" fill="#000" text-anchor="start" textLength="53.1" lengthAdjust="spacingAndGlyphs">3 May 16:00</text>
<text x="191" y="941.0" font-family='"Liberation Sans", "Noto Sans CJK SC", sans-serif' font-size="10" fill="#000" text-anchor="start" textLength="53.1" lengthAdjust="spacingAndGlyphs">5 May 00:00</text>
<text x="255" y="941.0" font-family='"Liberation Sans", "Noto Sans CJK SC", sans-serif' font-size="10" fill="#000" text-anchor="start" textLength="53.1" lengthAdjust="spacingAndGlyphs">6 May 08:00</text>
<text x="319" y="941.0" font-family='"Liberation Sans", "Noto Sans CJK SC", sans-serif' font-size="10" fill="#000" text-anchor="start" textLength="53.1" lengthAdjust="spacingAndGlyphs">7 May 16:00</text>
<text x="383" y="941.0" font-family='"Liberation Sans", "Noto Sans CJK SC", sans-serif' font-size="10" fill="#000" text-anchor="start" textLength="58.4" lengthAdjust="spacingAndGlyphs">11 May 00:00</text>
<text x="447" y="941.0" font-family='"Liberation Sans", "Noto Sans CJK SC", sans-serif' font-size="10" fill="#000" text-anchor="start" textLength="58.4" lengthAdjust="spacingAndGlyphs">12 May 08:00</text>
<text x="511" y="941.0" font-family='"Liberation Sans", "Noto Sans CJK SC", sans-serif' font-size="10" fill="#000" text-anchor="start" textLength="58.4" lengthAdjust="spacingAndGlyphs">13 May 16:00</text>
<text x="575" y="941.0" font-family='"Liberation Sans", "Noto Sans CJK SC", sans-serif' font-size="10" fill="#000" text-anchor="start" textLength="58.4" lengthAdjust="spacingAndGlyphs">17 May 00:00</text>
<text x="639" y="941.0" font-family='"Liberation Sans", "Noto Sans CJK SC", sans-serif' font-size="10" fill="#000" text-anchor="start" textLength="58.4" lengthAdjust="spacingAndGlyphs">18 May 08:00</text>
<text x="703" y="941.0" font-family='"Liberation Sans", "Noto Sans CJK SC", sans-serif' font-size="10" fill="#000" text-anchor="start" textLength="58.4" lengthAdjust="spacingAndGlyphs">19 May 16:00</text>
<text x="767" y="941.0" font-family='"Liberation Sans", "Noto Sans CJK SC", sans-serif' font-size="10" fill="#000" text-anchor="start" textLength="58.4" lengthAdjust="spacingAndGlyphs">21 May 00:00</text>
<text x="831" y="941.0" font-family='"Liberation Sans", "Noto Sans CJK SC", sans-serif' font-size="10" fill="#000" text-anchor="start" textLength="58.4" lengthAdjust="spacingAndGlyphs">24 May 08:00</text>
<text x="895" y="941.0" font-family='"Liberation Sans", "Noto Sans CJK SC", sans-serif' font-size="10" fill="#000" text-anchor="start" textLength="58.4" lengthAdjust="spacingAndGlyphs">25 May 16:00</text>
<text x="959" y="941.0" font-family='"Liberation Sans", "Noto Sans CJK SC", sans-serif' font-size="10" fill="#000" text-anchor="start" textLength="58.4" lengthAdjust="spacingAndGlyphs">27 May 00:00</text>
<text x="1023" y="941.0" font-family='"Liberation Sans", "Noto Sans CJK SC", sans-serif' font-size="10" fill="#000" text-anchor="start" textLength="58.4" lengthAdjust="spacingAndGlyphs">28 May 08:00</text>
<text x="1087" y="941.0" font-family='"Liberation Sans", "Noto Sans CJK SC", sans-serif' font-size="10" fill="#000" text-anchor="start" textLength="58.4" lengthAdjust="spacingAndGlyphs">31 May 16:00</text>
<text x="1151" y="941.0" font-family='"Liberation Sans", "Noto Sans CJK SC", sans-serif' font-size="10" fill="#000" text-anchor="start" textLength="48.2" lengthAdjust="spacingAndGlyphs">2 Jun 00:00</text>
<text x="1215" y="941.0" font-family='"Liberation Sans", "Noto Sans CJK SC", sans-serif' font-size="10" fill="#000" text-anchor="start" textLength="48.2" lengthAdjust="spacingAndGlyphs">3 Jun 08:00</text>
<text x="1279" y="941.0" font-family='"Liberation Sans", "Noto Sans CJK SC", sans-serif' font-size="10" fill="#000" text-anchor="start" textLength="48.2" lengthAdjust="spacingAndGlyphs">4 Jun 16:00</text>
<text x="1343" y="941.0" font-family='"Liberation Sans", "Noto Sans CJK SC", sans-serif' font-size="10" fill="#000" text-anchor="start" textLength="48.2" lengthAdjust="spacingAndGlyphs">8 Jun 00:00</text>
<text x="1407" y="941.0" font-family='"Liberation Sans", "Noto Sans CJK SC", sans-serif' font-size="10" fill="#000" text-anchor="start" textLength="48.2" lengthAdjust="spacingAndGlyphs">9 Jun 08:00</text>
<text x="4" y="595.2" font-family='"Liberation Sans", "Noto Sans CJK SC", sans-serif' font-size="10" fill="#000" text-anchor="start" textLength="135.5" lengthAdjust="spacingAndGlyphs">MACD(12,26,9) -0.1071 -0.1005</text>
<text x="4" y="767.2" font-family='"Liberation Sans", "Noto Sans CJK SC", sans-serif' font-size="10" fill="#000" text-anchor="start" textLength="68.1" lengthAdjust="spacingAndGlyphs">RSI(14) 40.2519</text>
<text x="14.5" y="39.2" font-family='"Liberation Sans", "Noto Sans CJK SC", sans-serif' font-size="10" fill="#000" text-anchor="start" textLength="201.4" lengthAdjust="spacingAndGlyphs">GBPJPY-,H4&#160; 154.665 154.731 154.656 154.681</text>
<path d="M3 38.5 L6.5 34.5 L10 38.5 Z" fill="#000"/>
<path d="M1444.5 28 L1454.5 28 L1449.5 33 Z" fill="#b4b4b4"/>
<line x1="1008.4" y1="54.5" x2="1129.7" y2="160.8" stroke="#ff0000" stroke-width="3.4"/>
<path d="M1138 168 L1126.6 164.4 L1132.9 157.1 Z" fill="#ff0000"/>
<line x1="1138" y1="168" x2="1236.6" y2="96.5" stroke="#ff0000" stroke-width="3.4"/>
<path d="M1245.5 90 L1239.4 100.3 L1233.8 92.6 Z" fill="#ff0000"/>
<line x1="1245.5" y1="90" x2="1306.2" y2="188.6" stroke="#ff0000" stroke-width="3.4"/>
<path d="M1312 198 L1302.1 191.1 L1310.3 186.1 Z" fill="#ff0000"/>
<line x1="1314.5" y1="205" x2="1406.8" y2="156.1" stroke="#ff0000" stroke-width="3.4"/>
<path d="M1416.5 151 L1409 160.4 L1404.5 151.9 Z" fill="#ff0000"/>
<line x1="1416.5" y1="151" x2="1442.6" y2="209.9" stroke="#ff0000" stroke-width="3.4"/>
<path d="M1447 220 L1438.2 211.9 L1446.9 208 Z" fill="#ff0000"/>
<line x1="1294.5" y1="737" x2="1417.5" y2="742.5" stroke="#ff0000" stroke-width="3"/>
<path d="M1427.5 743 L1417.3 747 L1417.7 738.1 Z" fill="#ff0000"/>
<line x1="1308" y1="859.5" x2="1391.3" y2="839.1" stroke="#ff0000" stroke-width="3.4"/>
<path d="M1402 836.5 L1392.5 843.8 L1390.2 834.5 Z" fill="#ff0000"/>
<line x1="1402" y1="836.5" x2="1425.9" y2="855.6" stroke="#ff0000" stroke-width="3.4"/>
<path d="M1434.5 862.5 L1422.9 859.4 L1428.9 851.9 Z" fill="#ff0000"/>
<text x="1441.5" y="135" font-family='"Liberation Sans","Noto Sans CJK SC",sans-serif' font-weight="300" font-size="19.5" letter-spacing="2.6" fill="#00ff00">多空转折点</text></svg>
<svg width="1734" height="23" viewBox="0 0 1734 23" style="position:absolute;left:0;top:0">
<defs><linearGradient id="gG" x1="0" y1="0" x2="0" y2="1"><stop offset="0" stop-color="#7dea5a"/><stop offset="1" stop-color="#0a9a0a"/></linearGradient><linearGradient id="gY" x1="0" y1="0" x2="1" y2="1"><stop offset="0" stop-color="#ffe27a"/><stop offset="1" stop-color="#c8900a"/></linearGradient><linearGradient id="gB" x1="0" y1="0" x2="0" y2="1"><stop offset="0" stop-color="#7ec3f5"/><stop offset="1" stop-color="#1f6fd0"/></linearGradient><radialGradient id="gL" cx="0.4" cy="0.35" r="0.7"><stop offset="0" stop-color="#ffffff"/><stop offset="1" stop-color="#b9dcf7"/></radialGradient><linearGradient id="gR" x1="0" y1="0" x2="0" y2="1"><stop offset="0" stop-color="#f06a3a"/><stop offset="1" stop-color="#d21c10"/></linearGradient><pattern id="chk" width="2" height="2" patternUnits="userSpaceOnUse"><rect width="2" height="2" fill="#f7f7f7"/><rect width="1" height="1" fill="#ececec"/><rect x="1" y="1" width="1" height="1" fill="#ececec"/></pattern></defs>
<rect x="-3.5" y="4.5" width="14" height="13" rx="1" fill="#fff" stroke="#3b7fd0" stroke-width="1.3"/>
<rect x="0" y="7.0" width="9" height="1" fill="#c4d4f4"/>
<rect x="0" y="9.0" width="9" height="1" fill="#c4d4f4"/>
<rect x="0" y="11.0" width="9" height="1" fill="#c4d4f4"/>
<rect x="0" y="13.0" width="9" height="1" fill="#c4d4f4"/>
<rect x="0" y="6" width="1" height="1.5" fill="#e00"/><rect x="0" y="9" width="1" height="1.5" fill="#292"/><rect x="0" y="12" width="1" height="1.5" fill="#e00"/>
<rect x="23.5" y="3.5" width="12" height="13" fill="#fbfbf8" stroke="#b9b3a0" stroke-width="1"/>
<path d="M26 7 v6 M26 9 h2 M29.5 6 v5 M32.5 5.5 v6 M32.5 7 h-2" stroke="#777" stroke-width="1" fill="none"/>
<line x1="35" y1="15.5" x2="39.5" y2="19.5" stroke="#c49a20" stroke-width="2.4" stroke-linecap="round"/>
<circle cx="31.3" cy="12" r="4.8" fill="#cfe4fb" fill-opacity="0.85" stroke="#6fa6e6" stroke-width="1.3"/>
<rect x="30.3" y="9.5" width="2" height="5" fill="#8fa6c6" fill-opacity="0.8"/>
<rect x="48" y="0" width="1" height="21" fill="#a5a5a5" shape-rendering="crispEdges"/>
<path d="M58.5 3.5 h7 l4 4 v9 h-11 Z" fill="#fdfdfd" stroke="#8a8a8a" stroke-width="1"/><path d="M65.5 3.5 v4 h4" fill="none" stroke="#8a8a8a" stroke-width="1"/>
<path d="M60.5 6.5 h3 M60.5 9.5 h6 M60.5 11.5 h5 M60.5 13.5 h3" stroke="#9a9a9a" stroke-width="1"/>
<path d="M66.60000000000001 9.9 h3.2 v3.8 h3.8 v3.2 h-3.8 v3.8 h-3.2 v-3.8 h-3.8 v-3.2 h3.8 Z" fill="url(#gG)" stroke="#0b8a0b" stroke-width="0.7"/>
<text x="77" y="15" font-family="'Liberation Sans','Noto Sans CJK SC',sans-serif" font-size="12" fill="#000">新订单</text>
<path d="M125.2 13.4 L126 12 L133.3 16.8 L140 11 L140.8 12.4 L133.3 19.2 Z" fill="#9a6408"/><path d="M125.4 12 L130.8 3.9 L140.2 11 L133.3 16.6 Z" fill="url(#gY)" stroke="#b07c0c" stroke-width="0.7"/><path d="M126 13.3 L133.3 18 L140.2 12" fill="none" stroke="#e0b050" stroke-width="0.6"/>
<path d="M155.2 5.2 L158.4 3 L166.3 3.6 L166.3 12.6 L155.2 12.6 Z" fill="url(#gB)" stroke="#1f78d8" stroke-width="0.7"/><path d="M155.2 5.2 L158.4 3 L158.4 12.6 L155.2 12.6 Z" fill="#1f8ef0"/><rect x="160" y="6" width="5" height="1.6" fill="#fff"/><rect x="160" y="8.6" width="5" height="1" fill="#cfe6ff"/><path d="M156.2 18.4 a3.1 3.1 0 0 1 0.4 -6.1 a3.4 3.4 0 0 1 6.2 -1 a2.8 2.8 0 0 1 4 1.8 a2.7 2.7 0 0 1 -0.4 5.3 Z" fill="#eef1f7" stroke="#6f86b8" stroke-width="1"/><path d="M155.5 17.2 h12.5" stroke="#c4cde0" stroke-width="1.4"/>
<defs><radialGradient id="gS" cx="0.5" cy="0.5" r="0.5"><stop offset="0.2" stop-color="#e6f2e6"/><stop offset="1" stop-color="#5eb25e"/></radialGradient></defs><circle cx="189" cy="10.8" r="7.8" fill="#f2f6f8" stroke="#c4d4ec" stroke-width="0.8"/><path d="M189 10.8 L196.6 9.2 A7.8 7.8 0 0 1 189 18.6 Z" fill="#7cc47c" opacity="0.9"/><path d="M189.6 11.4 L193.5 10.6 A4 4 0 0 1 189.6 14.8 Z" fill="#e4f2e4" opacity="0.8"/><path d="M191.5 3.6 A7.4 7.4 0 0 0 184.5 16.6" fill="none" stroke="#5a8fe0" stroke-width="1.1"/><path d="M190 6 A4.9 4.9 0 0 0 186 14.6" fill="none" stroke="#5a8fe0" stroke-width="1.1"/><path d="M193.5 5.5 A6 6 0 0 1 195 10" fill="none" stroke="#9ab4e6" stroke-width="0.9"/><circle cx="189" cy="10.6" r="1.9" fill="#2a62d8"/><rect x="188.6" y="11" width="1.3" height="7.6" fill="#22a022"/>
<path d="M209.2 10 L223 10 L218.5 18.4 L214.2 17.6 Z" fill="#f8dc50" stroke="#d8b028" stroke-width="0.7"/><ellipse cx="216" cy="7.6" rx="8" ry="3.1" fill="#3f96dc"/><path d="M211.8 7 a4.3 4.2 0 0 1 8.6 0 Z" fill="#78bff0"/><ellipse cx="216" cy="8.6" rx="6.5" ry="1.5" fill="#2f7fc4" opacity="0.55"/><circle cx="220.4" cy="14.6" r="4.2" fill="url(#gR)"/><rect x="218.8" y="13" width="3.2" height="3.2" fill="#fff"/>
<text x="229.5" y="15" font-family="'Liberation Sans','Noto Sans CJK SC',sans-serif" font-size="12" fill="#000">自动交易</text>
<rect x="284" y="0" width="1" height="21" fill="#a5a5a5" shape-rendering="crispEdges"/>
<rect x="288" y="1" width="3" height="1" fill="#b4b4b4" shape-rendering="crispEdges"/>
<rect x="288" y="3" width="3" height="1" fill="#b4b4b4" shape-rendering="crispEdges"/>
<rect x="288" y="5" width="3" height="1" fill="#b4b4b4" shape-rendering="crispEdges"/>
<rect x="288" y="7" width="3" height="1" fill="#b4b4b4" shape-rendering="crispEdges"/>
<rect x="288" y="9" width="3" height="1" fill="#b4b4b4" shape-rendering="crispEdges"/>
<rect x="288" y="11" width="3" height="1" fill="#b4b4b4" shape-rendering="crispEdges"/>
<rect x="288" y="13" width="3" height="1" fill="#b4b4b4" shape-rendering="crispEdges"/>
<rect x="288" y="15" width="3" height="1" fill="#b4b4b4" shape-rendering="crispEdges"/>
<rect x="288" y="17" width="3" height="1" fill="#b4b4b4" shape-rendering="crispEdges"/>
<rect x="288" y="19" width="3" height="1" fill="#b4b4b4" shape-rendering="crispEdges"/>
<g stroke="#555" stroke-width="1" fill="#555"><line x1="302.5" y1="6" x2="302.5" y2="19"/><line x1="300.0" y1="16.5" x2="312.5" y2="16.5"/><path d="M300.5 7.5 L302.5 4.5 L304.5 7.5 Z" stroke="none"/><path d="M311.5 14.5 L314.5 16.5 L311.5 18.5 Z" stroke="none"/></g>
<path d="M309.5 6 v9 M309.5 6.5 h2.5 M309.5 13.5 h-2.5" stroke="#1c9a1c" stroke-width="1.2" fill="none"/>
<rect x="322" y="0" width="1" height="21" fill="#a5a5a5" shape-rendering="crispEdges"/>
<rect x="323" y="0" width="24" height="21" fill="url(#chk)"/>
<g stroke="#555" stroke-width="1" fill="#555"><line x1="330.5" y1="6" x2="330.5" y2="19"/><line x1="328.0" y1="16.5" x2="340.5" y2="16.5"/><path d="M328.5 7.5 L330.5 4.5 L332.5 7.5 Z" stroke="none"/><path d="M339.5 14.5 L342.5 16.5 L339.5 18.5 Z" stroke="none"/></g>
<line x1="336.5" y1="3" x2="336.5" y2="14.5" stroke="#0f8a0f" stroke-width="1"/><rect x="334.5" y="5.5" width="4" height="7" fill="#35d035" stroke="#0f8a0f" stroke-width="1"/>
<g stroke="#555" stroke-width="1" fill="#555"><line x1="358.5" y1="6" x2="358.5" y2="19"/><line x1="356.0" y1="16.5" x2="368.5" y2="16.5"/><path d="M356.5 7.5 L358.5 4.5 L360.5 7.5 Z" stroke="none"/><path d="M367.5 14.5 L370.5 16.5 L367.5 18.5 Z" stroke="none"/></g>
<path d="M358.5 14 C361 10, 363 7.5, 364.5 8 S367.5 11, 369 12.5" fill="none" stroke="#1c9a1c" stroke-width="1.2"/>
<rect x="379" y="0" width="1" height="21" fill="#a5a5a5" shape-rendering="crispEdges"/>
<line x1="398" y1="13" x2="403.3" y2="17.8" stroke="#b8901a" stroke-width="3.2" stroke-linecap="round"/><line x1="398.5" y1="13" x2="403.3" y2="17.5" stroke="#f0d050" stroke-width="1.4" stroke-linecap="round"/><circle cx="394" cy="9" r="5.3" fill="url(#gL)" stroke="#3d8be0" stroke-width="1.6"/>
<rect x="391" y="8" width="6" height="2" fill="#2f7fd8"/>
<rect x="393" y="6" width="2" height="6" fill="#2f7fd8"/>
<line x1="426" y1="13" x2="431.3" y2="17.8" stroke="#b8901a" stroke-width="3.2" stroke-linecap="round"/><line x1="426.5" y1="13" x2="431.3" y2="17.5" stroke="#f0d050" stroke-width="1.4" stroke-linecap="round"/><circle cx="422" cy="9" r="5.3" fill="url(#gL)" stroke="#3d8be0" stroke-width="1.6"/>
<rect x="419" y="8" width="6" height="2" fill="#2f7fd8"/>
<rect x="444" y="3" width="7.5" height="7.5" fill="#2fa02f"/><rect x="445" y="6" width="5.5" height="3.5" fill="#fff" fill-opacity="0.92"/><rect x="445" y="7.3" width="5.5" height="0.9" fill="#2fa02f" fill-opacity="0.6"/>
<rect x="452.5" y="3" width="7.5" height="7.5" fill="#2a55d0"/><rect x="453.5" y="6" width="5.5" height="3.5" fill="#fff" fill-opacity="0.92"/><rect x="453.5" y="7.3" width="5.5" height="0.9" fill="#2a55d0" fill-opacity="0.6"/>
<rect x="444" y="11" width="7.5" height="7.5" fill="#2a55d0"/><rect x="445" y="14" width="5.5" height="3.5" fill="#fff" fill-opacity="0.92"/><rect x="445" y="15.3" width="5.5" height="0.9" fill="#2a55d0" fill-opacity="0.6"/>
<rect x="452.5" y="11" width="7.5" height="7.5" fill="#2fa02f"/><rect x="453.5" y="14" width="5.5" height="3.5" fill="#fff" fill-opacity="0.92"/><rect x="453.5" y="15.3" width="5.5" height="0.9" fill="#2fa02f" fill-opacity="0.6"/>
<rect x="469" y="0" width="1" height="21" fill="#a5a5a5" shape-rendering="crispEdges"/>
<rect x="474" y="0" width="1" height="21" fill="#a5a5a5" shape-rendering="crispEdges"/>
<rect x="475" y="0" width="25" height="21" fill="url(#chk)"/>
<g stroke="#555" stroke-width="1" fill="#555"><line x1="482.5" y1="6" x2="482.5" y2="19"/><line x1="480.0" y1="16.5" x2="492.5" y2="16.5"/><path d="M480.5 7.5 L482.5 4.5 L484.5 7.5 Z" stroke="none"/><path d="M491.5 14.5 L494.5 16.5 L491.5 18.5 Z" stroke="none"/></g>
<path d="M487.5 7 L491.5 10.5 L487.5 14 Z" fill="#8ee08e" stroke="#1c9a1c" stroke-width="1"/>
<rect x="502" y="0" width="1" height="21" fill="#a5a5a5" shape-rendering="crispEdges"/>
<rect x="503" y="0" width="25" height="21" fill="url(#chk)"/>
<g stroke="#555" stroke-width="1" fill="#555"><line x1="510.5" y1="6" x2="510.5" y2="19"/><line x1="508.0" y1="16.5" x2="520.5" y2="16.5"/><path d="M508.5 7.5 L510.5 4.5 L512.5 7.5 Z" stroke="none"/><path d="M519.5 14.5 L522.5 16.5 L519.5 18.5 Z" stroke="none"/></g>
<line x1="516.5" y1="5" x2="516.5" y2="15" stroke="#1a5fb4" stroke-width="1.2"/><path d="M518 10.5 L521 8 L521 13 Z M520 10.5 h3" fill="#e04a10" stroke="#e04a10" stroke-width="0.9"/>
<rect x="531" y="0" width="1" height="21" fill="#a5a5a5" shape-rendering="crispEdges"/>
<path d="M541.5 3.5 h7 l4 4 v9 h-11 Z" fill="#fdfdfd" stroke="#8a8a8a" stroke-width="1"/><path d="M548.5 3.5 v4 h4" fill="none" stroke="#8a8a8a" stroke-width="1"/>
<text x="544" y="12" font-family="Liberation Serif,serif" font-style="italic" font-size="9" fill="#666">f</text>
<path d="M549.6 9.6 h3.2 v3.8 h3.8 v3.2 h-3.8 v3.8 h-3.2 v-3.8 h-3.8 v-3.2 h3.8 Z" fill="url(#gG)" stroke="#0b8a0b" stroke-width="0.7"/>
<path d="M563 10 L569 10 L566 13 Z" fill="#000"/>
<circle cx="587" cy="11" r="7.3" fill="#fff" stroke="url(#gB)" stroke-width="2.2"/><circle cx="587" cy="11" r="8.2" fill="none" stroke="#1b5fc0" stroke-width="0.6"/><path d="M587 6.5 V11 H590.5" stroke="#444" stroke-width="1" fill="none"/>
<path d="M602 10 L608 10 L605 13 Z" fill="#000"/>
<rect x="618.5" y="4.5" width="15.5" height="13" fill="#fff" stroke="#2f74d0" stroke-width="1.2"/><rect x="619" y="5" width="14.5" height="2" fill="#7fb2ee"/><path d="M620.5 11 l2 -1 l2 0.5 l2 -1.5 l2 0.5 l3 -1.5" fill="none" stroke="#c0392b" stroke-width="1.1"/><rect x="619" y="12" width="14.5" height="0.8" fill="#9cc0f0"/><path d="M620.5 15.5 l2 -1 l2 1 l2 -1.5 l2 1.5 l3 -1" fill="none" stroke="#1c9a1c" stroke-width="1.1"/>
<path d="M641 10 L647 10 L644 13 Z" fill="#000"/>
<rect x="652" y="0" width="1" height="21" fill="#a5a5a5" shape-rendering="crispEdges"/>
<rect x="656" y="1" width="3" height="1" fill="#b4b4b4" shape-rendering="crispEdges"/>
<rect x="656" y="3" width="3" height="1" fill="#b4b4b4" shape-rendering="crispEdges"/>
<rect x="656" y="5" width="3" height="1" fill="#b4b4b4" shape-rendering="crispEdges"/>
<rect x="656" y="7" width="3" height="1" fill="#b4b4b4" shape-rendering="crispEdges"/>
<rect x="656" y="9" width="3" height="1" fill="#b4b4b4" shape-rendering="crispEdges"/>
<rect x="656" y="11" width="3" height="1" fill="#b4b4b4" shape-rendering="crispEdges"/>
<rect x="656" y="13" width="3" height="1" fill="#b4b4b4" shape-rendering="crispEdges"/>
<rect x="656" y="15" width="3" height="1" fill="#b4b4b4" shape-rendering="crispEdges"/>
<rect x="656" y="17" width="3" height="1" fill="#b4b4b4" shape-rendering="crispEdges"/>
<rect x="656" y="19" width="3" height="1" fill="#b4b4b4" shape-rendering="crispEdges"/>
<rect x="662" y="0" width="1" height="21" fill="#a5a5a5" shape-rendering="crispEdges"/>
<rect x="664" y="0" width="24" height="21" fill="url(#chk)"/>
<path d="M670.5 4 L670.5 15 L673.3 12.6 L675.6 18 L677.6 17.1 L675.3 11.9 L678.8 11.6 Z" fill="#4a4a4a"/>
<path d="M702.5 4.5 v14 M695.5 11.5 h14" stroke="#4a4a4a" stroke-width="1.1"/>
<rect x="719" y="0" width="1" height="21" fill="#a5a5a5" shape-rendering="crispEdges"/>
<path d="M736.5 5 v13" stroke="#4a4a4a" stroke-width="1.2"/><path d="M759 11.5 h12.5" stroke="#4a4a4a" stroke-width="1.2"/><path d="M787 18 L799 5.5" stroke="#4a4a4a" stroke-width="1.2"/>
<path d="M813 13 L827 4.5 M814 17.5 L827 9.5 M816.5 10 v7 M820 8 v7 M823.5 5 v8" stroke="#4a4a4a" stroke-width="1" fill="none"/>
<text x="824" y="19.5" font-family="'Liberation Sans','Noto Sans CJK SC',sans-serif" font-size="6.5" font-weight="bold" fill="#333">E</text>
<line x1="842" y1="4.5" x2="855.5" y2="4.5" stroke="#4a4a4a" stroke-width="1" stroke-dasharray="1 1"/>
<line x1="842" y1="7.5" x2="855.5" y2="7.5" stroke="#4a4a4a" stroke-width="1" stroke-dasharray="1 1"/>
<line x1="842" y1="11.5" x2="855.5" y2="11.5" stroke="#4a4a4a" stroke-width="1" stroke-dasharray="1 1"/>
<line x1="842" y1="15.5" x2="850.5" y2="15.5" stroke="#4a4a4a" stroke-width="1" stroke-dasharray="1 1"/>
<text x="852" y="19.5" font-family="'Liberation Sans','Noto Sans CJK SC',sans-serif" font-size="6.5" font-weight="bold" fill="#333">F</text>
<text x="872.5" y="15.5" font-family="'Liberation Sans','Noto Sans CJK SC',sans-serif" font-size="12.5" fill="#4a4a4a" stroke="#4a4a4a" stroke-width="0.3">A</text>
<rect x="899.5" y="5.5" width="11.5" height="12" fill="none" stroke="#4a4a4a" stroke-width="1" stroke-dasharray="1 1"/>
<text x="901.2" y="15.5" font-family="'Liberation Sans','Noto Sans CJK SC',sans-serif" font-size="11" fill="#4a4a4a" stroke="#4a4a4a" stroke-width="0.3">T</text>
<path d="M929.5 4.5 L932.5 7.5 L929.5 10 L926.5 7.5 Z M936.5 12.5 L939.5 15 L936.5 18 L933.5 15 Z" fill="#4a4a4a"/><path d="M929 12 L931 14 L935.5 8.5" fill="none" stroke="#4a4a4a" stroke-width="1.1"/>
<path d="M947 10 L953 10 L950 13 Z" fill="#000"/>
<rect x="958" y="0" width="1" height="21" fill="#a5a5a5" shape-rendering="crispEdges"/>
<rect x="962" y="1" width="3" height="1" fill="#b4b4b4" shape-rendering="crispEdges"/>
<rect x="962" y="3" width="3" height="1" fill="#b4b4b4" shape-rendering="crispEdges"/>
<rect x="962" y="5" width="3" height="1" fill="#b4b4b4" shape-rendering="crispEdges"/>
<rect x="962" y="7" width="3" height="1" fill="#b4b4b4" shape-rendering="crispEdges"/>
<rect x="962" y="9" width="3" height="1" fill="#b4b4b4" shape-rendering="crispEdges"/>
<rect x="962" y="11" width="3" height="1" fill="#b4b4b4" shape-rendering="crispEdges"/>
<rect x="962" y="13" width="3" height="1" fill="#b4b4b4" shape-rendering="crispEdges"/>
<rect x="962" y="15" width="3" height="1" fill="#b4b4b4" shape-rendering="crispEdges"/>
<rect x="962" y="17" width="3" height="1" fill="#b4b4b4" shape-rendering="crispEdges"/>
<rect x="962" y="19" width="3" height="1" fill="#b4b4b4" shape-rendering="crispEdges"/>
<rect x="1109" y="0" width="24" height="21" fill="url(#chk)"/>
<rect x="1108" y="0" width="1" height="21" fill="#a5a5a5" shape-rendering="crispEdges"/>
<text x="973.3" y="15" font-family="'Liberation Sans','Noto Sans CJK SC',sans-serif" font-size="9.8" fill="#505050">M1</text>
<text x="1001.3" y="15" font-family="'Liberation Sans','Noto Sans CJK SC',sans-serif" font-size="9.8" fill="#505050">M5</text>
<text x="1027.3" y="15" font-family="'Liberation Sans','Noto Sans CJK SC',sans-serif" font-size="9.8" fill="#505050">M15</text>
<text x="1055" y="15" font-family="'Liberation Sans','Noto Sans CJK SC',sans-serif" font-size="9.8" fill="#505050">M30</text>
<text x="1086.2" y="15" font-family="'Liberation Sans','Noto Sans CJK SC',sans-serif" font-size="9.8" fill="#505050">H1</text>
<text x="1113.5" y="15" font-family="'Liberation Sans','Noto Sans CJK SC',sans-serif" font-size="9.8" fill="#505050">H4</text>
<text x="1142.2" y="15" font-family="'Liberation Sans','Noto Sans CJK SC',sans-serif" font-size="9.8" fill="#505050">D1</text>
<text x="1169.5" y="15" font-family="'Liberation Sans','Noto Sans CJK SC',sans-serif" font-size="9.8" fill="#505050">W1</text>
<text x="1196" y="15" font-family="'Liberation Sans','Noto Sans CJK SC',sans-serif" font-size="9.8" fill="#505050">MN</text>
<rect x="1219" y="0" width="1" height="21" fill="#a5a5a5" shape-rendering="crispEdges"/>
<line x1="1682.5" y1="16" x2="1687" y2="11.5" stroke="#2f62d8" stroke-width="2.4" stroke-linecap="round"/><circle cx="1689.5" cy="8.3" r="4" fill="#f4f4f4" stroke="#2f62d8" stroke-width="1.4"/>
<path d="M1708 9 a6 4.5 0 0 1 12 3 a6 4.5 0 0 1 -8 4.5 l-2.5 2.5 l0.3 -2.8 a6 4.5 0 0 1 -1.8 -7.2 Z" fill="#e4e6ec" stroke="#b4b4b4" stroke-width="0.8"/>
<circle cx="1720.3" cy="8.5" r="8.3" fill="url(#gR)"/>
<text x="1720.3" y="13.2" text-anchor="middle" font-family="'Liberation Sans','Noto Sans CJK SC',sans-serif" font-size="13" fill="#fff">1</text>
</svg>
<svg width="230" height="70" viewBox="0 40 230 70" style="position:absolute;left:0;top:40px">
<defs><linearGradient id="pr" x1="0" y1="0" x2="0" y2="1"><stop offset="0" stop-color="#fb5555"/><stop offset="0.42" stop-color="#e03030"/><stop offset="1" stop-color="#b40404"/></linearGradient><linearGradient id="pb" x1="0" y1="0" x2="0" y2="1"><stop offset="0" stop-color="#f2f2f2"/><stop offset="0.5" stop-color="#e2e2e2"/><stop offset="0.5" stop-color="#d2d2d2"/><stop offset="1" stop-color="#dcdcdc"/></linearGradient></defs>
<path d="M3 47 H55 V71 H112 V104 H3 Z" fill="url(#pr)"/>
<path d="M222 47 H170 V71 H114 V104 H222 Z" fill="url(#pr)"/>
<path d="M3.5 47.5 H54.5 V71" fill="none" stroke="#c81818" stroke-width="1"/><path d="M221.5 47.5 H170.5 V71" fill="none" stroke="#c81818" stroke-width="1"/>
<rect x="7" y="70.5" width="44" height="1" fill="#9c0000" opacity="0.8"/><rect x="174" y="70.5" width="44" height="1" fill="#9c0000" opacity="0.8"/>
<rect x="7" y="71.5" width="44" height="1" fill="#ff7a7a" opacity="0.55"/><rect x="174" y="71.5" width="44" height="1" fill="#ff7a7a" opacity="0.55"/>
<rect x="57.5" y="47.5" width="110.500" height="21" fill="#fff" stroke="#a9b0bb" stroke-width="1"/>
<rect x="59" y="49" width="19" height="18" fill="url(#pb)"/><rect x="147" y="49" width="19" height="18" fill="url(#pb)"/>
<rect x="78.500" y="48" width="1" height="20" fill="#a9b0bb"/><rect x="146" y="48" width="1" height="20" fill="#a9b0bb"/>
<path d="M65 56 h5 l-2.500 3 Z" fill="#5566c8"/><path d="M154 59 h5 l-2.500 -3 Z" fill="#5566c8"/>
<text x="143" y="62.500" text-anchor="end" font-family="'Liberation Sans',sans-serif" font-size="12" fill="#000">1.00</text>
<text x="28.300" y="62.5" text-anchor="middle" font-family="'Liberation Sans',sans-serif" font-size="11" fill="#fff">SELL</text>
<text x="195" y="62.5" text-anchor="middle" font-family="'Liberation Sans',sans-serif" font-size="11" fill="#fff">BUY</text>
<text x="26.5" y="98.600" font-family="'Liberation Sans',sans-serif" font-size="12" font-weight="bold" fill="#fff" textLength="20.8" lengthAdjust="spacingAndGlyphs">154</text>
<text x="50.0" y="99" font-family="'Liberation Sans',sans-serif" font-size="34" fill="#fff" textLength="35" lengthAdjust="spacingAndGlyphs">68</text>
<text x="90.4" y="82.6" font-family="'Liberation Sans',sans-serif" font-size="11.500" font-weight="bold" fill="#fff">1</text>
<text x="136.3" y="98.600" font-family="'Liberation Sans',sans-serif" font-size="12" font-weight="bold" fill="#fff" textLength="20.8" lengthAdjust="spacingAndGlyphs">154</text>
<text x="161.8" y="99" font-family="'Liberation Sans',sans-serif" font-size="34" fill="#fff" textLength="35" lengthAdjust="spacingAndGlyphs">88</text>
<text x="201.50000000000003" y="82.6" font-family="'Liberation Sans',sans-serif" font-size="11.500" font-weight="bold" fill="#fff">9</text>
</svg>
</body></html>
